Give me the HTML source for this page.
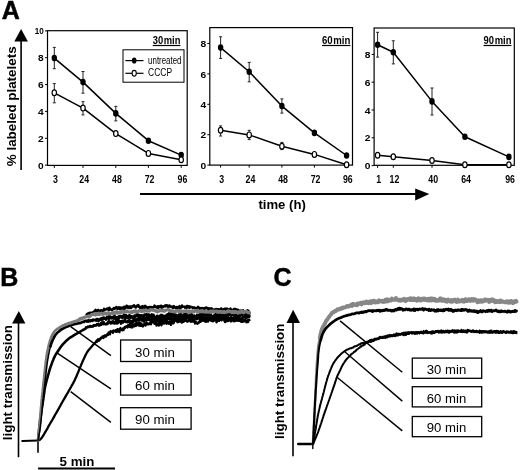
<!DOCTYPE html>
<html><head><meta charset="utf-8"><title>Figure</title>
<style>html,body{margin:0;padding:0;background:#fff;}svg{display:block;}</style></head>
<body>
<svg width="520" height="470" viewBox="0 0 520 470"><rect width="520" height="470" fill="#fff"/><text x="1.8" y="18.8" font-family="'Liberation Sans', sans-serif" font-weight="bold" font-size="25" stroke="#000" stroke-width="0.5">A</text>
<line x1="21.1" y1="40" x2="21.1" y2="170" stroke="#000" stroke-width="1.6"/>
<polygon points="21.1,28.9 14.3,41.4 27.9,41.4" fill="#000"/>
<text transform="translate(16.2,166.2) rotate(-90)" font-family="'Liberation Sans', sans-serif" font-weight="bold" font-size="13.6" textLength="119.8" lengthAdjust="spacingAndGlyphs">% labeled platelets</text>
<rect x="47.5" y="30.7" width="139.7" height="134.70000000000002" fill="none" stroke="#000" stroke-width="1.2"/>
<line x1="45.0" y1="165.1" x2="47.5" y2="165.1" stroke="#000" stroke-width="1"/>
<text x="43.8" y="168.7" font-family="'Liberation Sans', sans-serif" font-weight="bold" font-size="9.6" text-anchor="end" textLength="5.70" lengthAdjust="spacingAndGlyphs">0</text>
<line x1="45.0" y1="138.3" x2="47.5" y2="138.3" stroke="#000" stroke-width="1"/>
<text x="43.8" y="141.9" font-family="'Liberation Sans', sans-serif" font-weight="bold" font-size="9.6" text-anchor="end" textLength="5.70" lengthAdjust="spacingAndGlyphs">2</text>
<line x1="45.0" y1="111.4" x2="47.5" y2="111.4" stroke="#000" stroke-width="1"/>
<text x="43.8" y="115.0" font-family="'Liberation Sans', sans-serif" font-weight="bold" font-size="9.6" text-anchor="end" textLength="5.70" lengthAdjust="spacingAndGlyphs">4</text>
<line x1="45.0" y1="84.6" x2="47.5" y2="84.6" stroke="#000" stroke-width="1"/>
<text x="43.8" y="88.2" font-family="'Liberation Sans', sans-serif" font-weight="bold" font-size="9.6" text-anchor="end" textLength="5.70" lengthAdjust="spacingAndGlyphs">6</text>
<line x1="45.0" y1="57.7" x2="47.5" y2="57.7" stroke="#000" stroke-width="1"/>
<text x="43.8" y="61.3" font-family="'Liberation Sans', sans-serif" font-weight="bold" font-size="9.6" text-anchor="end" textLength="5.70" lengthAdjust="spacingAndGlyphs">8</text>
<line x1="45.0" y1="30.9" x2="47.5" y2="30.9" stroke="#000" stroke-width="1"/>
<text x="43.8" y="33.8" font-family="'Liberation Sans', sans-serif" font-weight="bold" font-size="9.6" text-anchor="end" textLength="9.00" lengthAdjust="spacingAndGlyphs">10</text>
<line x1="54.3" y1="165.4" x2="54.3" y2="167.9" stroke="#000" stroke-width="1"/>
<text x="55.5" y="183.1" font-family="'Liberation Sans', sans-serif" font-weight="bold" font-size="11" text-anchor="middle" textLength="4.89" lengthAdjust="spacingAndGlyphs">3</text>
<line x1="83" y1="165.4" x2="83" y2="167.9" stroke="#000" stroke-width="1"/>
<text x="84.2" y="183.1" font-family="'Liberation Sans', sans-serif" font-weight="bold" font-size="11" text-anchor="middle" textLength="9.79" lengthAdjust="spacingAndGlyphs">24</text>
<line x1="115.8" y1="165.4" x2="115.8" y2="167.9" stroke="#000" stroke-width="1"/>
<text x="117.0" y="183.1" font-family="'Liberation Sans', sans-serif" font-weight="bold" font-size="11" text-anchor="middle" textLength="9.79" lengthAdjust="spacingAndGlyphs">48</text>
<line x1="148.4" y1="165.4" x2="148.4" y2="167.9" stroke="#000" stroke-width="1"/>
<text x="149.6" y="183.1" font-family="'Liberation Sans', sans-serif" font-weight="bold" font-size="11" text-anchor="middle" textLength="9.79" lengthAdjust="spacingAndGlyphs">72</text>
<line x1="181.2" y1="165.4" x2="181.2" y2="167.9" stroke="#000" stroke-width="1"/>
<text x="182.39999999999998" y="183.1" font-family="'Liberation Sans', sans-serif" font-weight="bold" font-size="11" text-anchor="middle" textLength="9.79" lengthAdjust="spacingAndGlyphs">96</text>
<path d="M54.3,58.1 L83.0,82.1 L115.8,113.4 L148.4,140.7 L181.2,155.1" fill="none" stroke="#000" stroke-width="1.5" stroke-linejoin="round" stroke-linecap="round" />
<path d="M54.3,92.8 L83.0,108.1 L115.8,133.6 L148.4,153.4 L181.2,159.8" fill="none" stroke="#000" stroke-width="1.5" stroke-linejoin="round" stroke-linecap="round" />
<path d="M54.3,47.4 V68.7 M52.8,47.4 H55.8 M52.8,68.7 H55.8" stroke="#222" stroke-width="1" fill="none"/>
<path d="M83,71.5 V93.2 M81.5,71.5 H84.5 M81.5,93.2 H84.5" stroke="#222" stroke-width="1" fill="none"/>
<path d="M115.8,106.4 V120.9 M114.3,106.4 H117.3 M114.3,120.9 H117.3" stroke="#222" stroke-width="1" fill="none"/>
<path d="M54.3,83.6 V102.8 M52.8,83.6 H55.8 M52.8,102.8 H55.8" stroke="#222" stroke-width="1" fill="none"/>
<path d="M83,101.7 V114.9 M81.5,101.7 H84.5 M81.5,114.9 H84.5" stroke="#222" stroke-width="1" fill="none"/>
<ellipse cx="54.3" cy="58.1" rx="2.7" ry="3.3" fill="#000"/>
<ellipse cx="83" cy="82.1" rx="2.7" ry="3.3" fill="#000"/>
<ellipse cx="115.8" cy="113.4" rx="2.7" ry="3.3" fill="#000"/>
<ellipse cx="148.4" cy="140.7" rx="2.7" ry="3.3" fill="#000"/>
<ellipse cx="181.2" cy="155.1" rx="2.7" ry="3.3" fill="#000"/>
<ellipse cx="54.3" cy="92.8" rx="2.2" ry="2.9" fill="#fff" stroke="#000" stroke-width="1.2"/>
<ellipse cx="83" cy="108.1" rx="2.2" ry="2.9" fill="#fff" stroke="#000" stroke-width="1.2"/>
<ellipse cx="115.8" cy="133.6" rx="2.2" ry="2.9" fill="#fff" stroke="#000" stroke-width="1.2"/>
<ellipse cx="148.4" cy="153.4" rx="2.2" ry="2.9" fill="#fff" stroke="#000" stroke-width="1.2"/>
<ellipse cx="181.2" cy="159.8" rx="2.2" ry="2.9" fill="#fff" stroke="#000" stroke-width="1.2"/>
<text x="152.8" y="43.7" font-family="'Liberation Sans', sans-serif" font-weight="bold" font-size="10.2" word-spacing="-2.2" textLength="27.599999999999994" lengthAdjust="spacingAndGlyphs">30 min</text>
<line x1="152.8" y1="45.5" x2="180.4" y2="45.5" stroke="#000" stroke-width="1.2"/>
<rect x="209.8" y="27.6" width="142.7" height="137.5" fill="none" stroke="#000" stroke-width="1.2"/>
<line x1="207.3" y1="165.1" x2="209.8" y2="165.1" stroke="#000" stroke-width="1"/>
<text x="206.10000000000002" y="168.7" font-family="'Liberation Sans', sans-serif" font-weight="bold" font-size="9.6" text-anchor="end" textLength="5.70" lengthAdjust="spacingAndGlyphs">0</text>
<line x1="207.3" y1="134.7" x2="209.8" y2="134.7" stroke="#000" stroke-width="1"/>
<text x="206.10000000000002" y="138.3" font-family="'Liberation Sans', sans-serif" font-weight="bold" font-size="9.6" text-anchor="end" textLength="5.70" lengthAdjust="spacingAndGlyphs">2</text>
<line x1="207.3" y1="104.3" x2="209.8" y2="104.3" stroke="#000" stroke-width="1"/>
<text x="206.10000000000002" y="107.9" font-family="'Liberation Sans', sans-serif" font-weight="bold" font-size="9.6" text-anchor="end" textLength="5.70" lengthAdjust="spacingAndGlyphs">4</text>
<line x1="207.3" y1="73.9" x2="209.8" y2="73.9" stroke="#000" stroke-width="1"/>
<text x="206.10000000000002" y="77.5" font-family="'Liberation Sans', sans-serif" font-weight="bold" font-size="9.6" text-anchor="end" textLength="5.70" lengthAdjust="spacingAndGlyphs">6</text>
<line x1="207.3" y1="43.5" x2="209.8" y2="43.5" stroke="#000" stroke-width="1"/>
<text x="206.10000000000002" y="47.1" font-family="'Liberation Sans', sans-serif" font-weight="bold" font-size="9.6" text-anchor="end" textLength="5.70" lengthAdjust="spacingAndGlyphs">8</text>
<line x1="220.6" y1="165.1" x2="220.6" y2="167.6" stroke="#000" stroke-width="1"/>
<text x="221.79999999999998" y="182.8" font-family="'Liberation Sans', sans-serif" font-weight="bold" font-size="11" text-anchor="middle" textLength="4.89" lengthAdjust="spacingAndGlyphs">3</text>
<line x1="249.2" y1="165.1" x2="249.2" y2="167.6" stroke="#000" stroke-width="1"/>
<text x="250.39999999999998" y="182.8" font-family="'Liberation Sans', sans-serif" font-weight="bold" font-size="11" text-anchor="middle" textLength="9.79" lengthAdjust="spacingAndGlyphs">24</text>
<line x1="281.9" y1="165.1" x2="281.9" y2="167.6" stroke="#000" stroke-width="1"/>
<text x="283.09999999999997" y="182.8" font-family="'Liberation Sans', sans-serif" font-weight="bold" font-size="11" text-anchor="middle" textLength="9.79" lengthAdjust="spacingAndGlyphs">48</text>
<line x1="314.4" y1="165.1" x2="314.4" y2="167.6" stroke="#000" stroke-width="1"/>
<text x="315.59999999999997" y="182.8" font-family="'Liberation Sans', sans-serif" font-weight="bold" font-size="11" text-anchor="middle" textLength="9.79" lengthAdjust="spacingAndGlyphs">72</text>
<line x1="346.6" y1="165.1" x2="346.6" y2="167.6" stroke="#000" stroke-width="1"/>
<text x="347.8" y="182.8" font-family="'Liberation Sans', sans-serif" font-weight="bold" font-size="11" text-anchor="middle" textLength="9.79" lengthAdjust="spacingAndGlyphs">96</text>
<path d="M220.6,47.6 L249.2,71.8 L281.9,106.1 L314.4,132.9 L346.6,155.5" fill="none" stroke="#000" stroke-width="1.5" stroke-linejoin="round" stroke-linecap="round" />
<path d="M220.6,130.3 L249.2,134.9 L281.9,146.2 L314.4,154.4 L346.6,164.7" fill="none" stroke="#000" stroke-width="1.5" stroke-linejoin="round" stroke-linecap="round" />
<path d="M220.6,36.8 V58.4 M219.1,36.8 H222.1 M219.1,58.4 H222.1" stroke="#222" stroke-width="1" fill="none"/>
<path d="M249.2,62.4 V81.8 M247.7,62.4 H250.7 M247.7,81.8 H250.7" stroke="#222" stroke-width="1" fill="none"/>
<path d="M281.9,98.9 V113.1 M280.4,98.9 H283.4 M280.4,113.1 H283.4" stroke="#222" stroke-width="1" fill="none"/>
<path d="M220.6,125.9 V136 M219.1,125.9 H222.1 M219.1,136 H222.1" stroke="#222" stroke-width="1" fill="none"/>
<path d="M249.2,130.3 V139.6 M247.7,130.3 H250.7 M247.7,139.6 H250.7" stroke="#222" stroke-width="1" fill="none"/>
<path d="M281.9,142.4 V149.6 M280.4,142.4 H283.4 M280.4,149.6 H283.4" stroke="#222" stroke-width="1" fill="none"/>
<ellipse cx="220.6" cy="47.6" rx="2.7" ry="3.3" fill="#000"/>
<ellipse cx="249.2" cy="71.8" rx="2.7" ry="3.3" fill="#000"/>
<ellipse cx="281.9" cy="106.1" rx="2.7" ry="3.3" fill="#000"/>
<ellipse cx="314.4" cy="132.9" rx="2.7" ry="3.3" fill="#000"/>
<ellipse cx="346.6" cy="155.5" rx="2.7" ry="3.3" fill="#000"/>
<ellipse cx="220.6" cy="130.3" rx="2.2" ry="2.9" fill="#fff" stroke="#000" stroke-width="1.2"/>
<ellipse cx="249.2" cy="134.9" rx="2.2" ry="2.9" fill="#fff" stroke="#000" stroke-width="1.2"/>
<ellipse cx="281.9" cy="146.2" rx="2.2" ry="2.9" fill="#fff" stroke="#000" stroke-width="1.2"/>
<ellipse cx="314.4" cy="154.4" rx="2.2" ry="2.9" fill="#fff" stroke="#000" stroke-width="1.2"/>
<ellipse cx="346.6" cy="164.7" rx="2.2" ry="2.9" fill="#fff" stroke="#000" stroke-width="1.2"/>
<text x="322" y="43.7" font-family="'Liberation Sans', sans-serif" font-weight="bold" font-size="10.2" word-spacing="-2.2" textLength="28.399999999999977" lengthAdjust="spacingAndGlyphs">60 min</text>
<line x1="322" y1="45.5" x2="350.4" y2="45.5" stroke="#000" stroke-width="1.2"/>
<rect x="374.1" y="28" width="140.19999999999993" height="137.3" fill="none" stroke="#000" stroke-width="1.2"/>
<line x1="371.6" y1="165.6" x2="374.1" y2="165.6" stroke="#000" stroke-width="1"/>
<text x="370.40000000000003" y="169.2" font-family="'Liberation Sans', sans-serif" font-weight="bold" font-size="9.6" text-anchor="end" textLength="5.70" lengthAdjust="spacingAndGlyphs">0</text>
<line x1="371.6" y1="137.8" x2="374.1" y2="137.8" stroke="#000" stroke-width="1"/>
<text x="370.40000000000003" y="141.4" font-family="'Liberation Sans', sans-serif" font-weight="bold" font-size="9.6" text-anchor="end" textLength="5.70" lengthAdjust="spacingAndGlyphs">2</text>
<line x1="371.6" y1="110.0" x2="374.1" y2="110.0" stroke="#000" stroke-width="1"/>
<text x="370.40000000000003" y="113.6" font-family="'Liberation Sans', sans-serif" font-weight="bold" font-size="9.6" text-anchor="end" textLength="5.70" lengthAdjust="spacingAndGlyphs">4</text>
<line x1="371.6" y1="82.2" x2="374.1" y2="82.2" stroke="#000" stroke-width="1"/>
<text x="370.40000000000003" y="85.8" font-family="'Liberation Sans', sans-serif" font-weight="bold" font-size="9.6" text-anchor="end" textLength="5.70" lengthAdjust="spacingAndGlyphs">6</text>
<line x1="371.6" y1="54.4" x2="374.1" y2="54.4" stroke="#000" stroke-width="1"/>
<text x="370.40000000000003" y="58.0" font-family="'Liberation Sans', sans-serif" font-weight="bold" font-size="9.6" text-anchor="end" textLength="5.70" lengthAdjust="spacingAndGlyphs">8</text>
<line x1="377.6" y1="165.3" x2="377.6" y2="167.8" stroke="#000" stroke-width="1"/>
<text x="378.8" y="183.0" font-family="'Liberation Sans', sans-serif" font-weight="bold" font-size="11" text-anchor="middle" textLength="4.89" lengthAdjust="spacingAndGlyphs">1</text>
<line x1="393.3" y1="165.3" x2="393.3" y2="167.8" stroke="#000" stroke-width="1"/>
<text x="394.5" y="183.0" font-family="'Liberation Sans', sans-serif" font-weight="bold" font-size="11" text-anchor="middle" textLength="9.79" lengthAdjust="spacingAndGlyphs">12</text>
<line x1="432" y1="165.3" x2="432" y2="167.8" stroke="#000" stroke-width="1"/>
<text x="433.2" y="183.0" font-family="'Liberation Sans', sans-serif" font-weight="bold" font-size="11" text-anchor="middle" textLength="9.79" lengthAdjust="spacingAndGlyphs">40</text>
<line x1="464.9" y1="165.3" x2="464.9" y2="167.8" stroke="#000" stroke-width="1"/>
<text x="466.09999999999997" y="183.0" font-family="'Liberation Sans', sans-serif" font-weight="bold" font-size="11" text-anchor="middle" textLength="9.79" lengthAdjust="spacingAndGlyphs">64</text>
<line x1="508.9" y1="165.3" x2="508.9" y2="167.8" stroke="#000" stroke-width="1"/>
<text x="510.09999999999997" y="183.0" font-family="'Liberation Sans', sans-serif" font-weight="bold" font-size="11" text-anchor="middle" textLength="9.79" lengthAdjust="spacingAndGlyphs">96</text>
<path d="M377.6,44.7 L393.3,52.3 L432.0,101.4 L464.9,136.8 L508.9,156.9" fill="none" stroke="#000" stroke-width="1.5" stroke-linejoin="round" stroke-linecap="round" />
<path d="M377.6,155.2 L393.3,156.7 L432.0,160.5 L464.9,164.7 L508.9,164.7" fill="none" stroke="#000" stroke-width="1.5" stroke-linejoin="round" stroke-linecap="round" />
<path d="M377.6,32.3 V57.1 M376.1,32.3 H379.1 M376.1,57.1 H379.1" stroke="#222" stroke-width="1" fill="none"/>
<path d="M393.3,40.8 V63.9 M391.8,40.8 H394.8 M391.8,63.9 H394.8" stroke="#222" stroke-width="1" fill="none"/>
<path d="M432,88 V115 M430.5,88 H433.5 M430.5,115 H433.5" stroke="#222" stroke-width="1" fill="none"/>
<ellipse cx="377.6" cy="44.7" rx="2.7" ry="3.3" fill="#000"/>
<ellipse cx="393.3" cy="52.3" rx="2.7" ry="3.3" fill="#000"/>
<ellipse cx="432" cy="101.4" rx="2.7" ry="3.3" fill="#000"/>
<ellipse cx="464.9" cy="136.8" rx="2.7" ry="3.3" fill="#000"/>
<ellipse cx="508.9" cy="156.9" rx="2.7" ry="3.3" fill="#000"/>
<ellipse cx="377.6" cy="155.2" rx="2.2" ry="2.9" fill="#fff" stroke="#000" stroke-width="1.2"/>
<ellipse cx="393.3" cy="156.7" rx="2.2" ry="2.9" fill="#fff" stroke="#000" stroke-width="1.2"/>
<ellipse cx="432" cy="160.5" rx="2.2" ry="2.9" fill="#fff" stroke="#000" stroke-width="1.2"/>
<ellipse cx="464.9" cy="164.7" rx="2.2" ry="2.9" fill="#fff" stroke="#000" stroke-width="1.2"/>
<ellipse cx="508.9" cy="164.7" rx="2.2" ry="2.9" fill="#fff" stroke="#000" stroke-width="1.2"/>
<text x="483.6" y="43.7" font-family="'Liberation Sans', sans-serif" font-weight="bold" font-size="10.2" word-spacing="-2.2" textLength="27.799999999999955" lengthAdjust="spacingAndGlyphs">90 min</text>
<line x1="483.6" y1="45.5" x2="511.4" y2="45.5" stroke="#000" stroke-width="1.2"/>
<rect x="123" y="49.8" width="61" height="32.4" fill="#fff" stroke="#000" stroke-width="1"/>
<line x1="125.4" y1="60.6" x2="143.5" y2="60.6" stroke="#000" stroke-width="1.2"/>
<ellipse cx="134.2" cy="60.5" rx="2.3" ry="3.1" fill="#000"/>
<line x1="125.4" y1="73.3" x2="143.5" y2="73.3" stroke="#000" stroke-width="1.2"/>
<ellipse cx="134.2" cy="73.3" rx="2.1" ry="2.9" fill="#fff" stroke="#000" stroke-width="1.1"/>
<text x="148.1" y="63.6" font-family="'Liberation Sans', sans-serif" font-size="10" textLength="33.4" lengthAdjust="spacingAndGlyphs">untreated</text>
<text x="148.1" y="76.4" font-family="'Liberation Sans', sans-serif" font-size="10" textLength="24" lengthAdjust="spacingAndGlyphs">CCCP</text>
<line x1="140" y1="194" x2="416" y2="194" stroke="#000" stroke-width="2"/>
<polygon points="415.2,188.4 429.3,194 415.2,200.6" fill="#000"/>
<text x="258.4" y="208.5" font-family="'Liberation Sans', sans-serif" font-weight="bold" font-size="13" textLength="47.4" lengthAdjust="spacingAndGlyphs">time (h)</text>
<text x="0.2" y="286" font-family="'Liberation Sans', sans-serif" font-weight="bold" font-size="25" stroke="#000" stroke-width="0.5">B</text>
<line x1="18.5" y1="322" x2="18.5" y2="457.2" stroke="#000" stroke-width="1.6"/>
<polygon points="18.8,310.9 12.1,323.6 25.4,323.6" fill="#000"/>
<text transform="translate(12.4,440.2) rotate(-90)" font-family="'Liberation Sans', sans-serif" font-weight="bold" font-size="13.2" textLength="115" lengthAdjust="spacingAndGlyphs">light transmission</text>
<path d="M22.3,440.9 L38.0,440.5" fill="none" stroke="#000" stroke-width="2" stroke-linejoin="round" stroke-linecap="round" />
<path d="M38.0,436.0 L38.0,452.3" fill="none" stroke="#000" stroke-width="1.6" stroke-linejoin="round" stroke-linecap="round" />
<path d="M38.0,440.5 L38.2,440.4 L38.4,440.4 L38.5,440.3 L38.7,440.3 L38.9,440.2 L39.1,440.1 L39.3,440.1 L39.4,440.0 L39.6,439.9 L39.8,439.8 L40.0,439.7 L40.2,439.5 L40.4,439.3 L40.6,439.1 L40.8,438.9 L41.0,438.7 L41.2,438.5 L41.4,438.2 L41.7,437.9 L41.9,437.6 L42.5,436.7 L43.2,435.6 L44.0,434.3 L44.8,432.9 L45.7,431.4 L46.6,429.8 L47.5,428.3 L48.3,426.7 L49.2,425.2 L50.0,423.8 L50.7,422.5 L51.4,421.3 L52.2,420.1 L52.9,418.9 L53.6,417.6 L54.3,416.4 L54.9,415.2 L55.6,414.0 L56.3,412.8 L57.0,411.6 L57.7,410.4 L58.3,409.3 L59.0,408.1 L59.6,406.9 L60.3,405.8 L60.9,404.6 L61.5,403.5 L62.2,402.3 L62.8,401.2 L63.5,400.0 L64.2,398.8 L64.9,397.6 L65.6,396.4 L66.3,395.2 L67.0,394.0 L67.7,392.8 L68.4,391.6 L69.0,390.4 L69.7,389.3 L70.3,388.2 L70.8,387.3 L71.3,386.5 L71.7,385.7 L72.2,384.9 L72.6,384.1 L73.1,383.4 L73.5,382.6 L73.9,381.7 L74.4,380.9 L74.8,380.0 L75.3,378.8 L75.9,377.6 L76.4,376.4 L77.0,375.1 L77.5,373.7 L78.1,372.4 L78.6,371.1 L79.1,369.8 L79.6,368.6 L80.1,367.4 L80.5,366.5 L80.9,365.6 L81.2,364.7 L81.6,363.8 L82.0,363.0 L82.3,362.2 L82.7,361.3 L83.0,360.5 L83.4,359.7 L83.8,358.9 L84.2,358.1 L84.5,357.3 L84.9,356.6 L85.3,355.8 L85.6,355.0 L86.0,354.3 L86.4,353.5 L86.8,352.8 L87.2,352.1 L87.6,351.5 L88.0,351.0 L88.3,350.5 L88.7,350.0 L89.1,349.6 L89.4,349.1 L89.8,348.7 L90.2,348.3 L90.6,347.8 L90.9,347.4 L91.3,347.0 L91.6,346.6 L91.9,346.3 L92.2,345.9 L92.5,345.5 L92.8,345.2 L93.1,344.8 L93.5,344.5 L93.8,344.1 L94.1,343.8 L94.5,343.4 L95.0,342.9 L95.5,342.5 L96.0,342.0 L96.0,341.5 L96.5,340.8 L97.0,341.8 L97.5,340.1 L98.0,339.3 L98.5,339.6 L99.0,340.8 L99.5,338.9 L100.0,339.6 L100.5,339.2 L101.0,337.6 L101.5,337.9 L102.0,337.7 L102.5,336.4 L103.0,336.8 L103.5,338.0 L104.0,335.8 L104.5,336.0 L105.0,335.3 L105.5,336.6 L106.0,336.7 L106.5,335.2 L107.0,334.7 L107.5,333.9 L108.0,335.0 L108.5,332.5 L109.0,333.1 L109.5,333.9 L110.0,334.3 L110.5,331.2 L111.0,331.7 L111.5,331.7 L112.0,331.2 L112.5,332.0 L113.0,332.8 L113.5,330.5 L114.0,331.3 L114.5,331.4 L115.0,330.9 L115.5,330.4 L116.0,331.8 L116.5,329.9 L117.0,331.9 L117.5,329.2 L118.0,330.9 L118.5,329.5 L119.0,331.6 L119.5,332.1 L120.0,329.1 L120.5,328.0 L121.0,329.9 L121.5,329.5 L122.0,330.0 L122.5,330.4 L123.0,328.5 L123.5,330.1 L124.0,328.5 L124.5,327.2 L125.0,328.1 L125.5,326.8 L126.0,326.5 L126.5,326.2 L127.0,325.9 L127.5,327.5 L128.0,325.2 L128.5,326.6 L129.0,325.2 L129.5,326.7 L130.0,325.2 L130.5,327.2 L131.0,325.7 L131.5,325.0 L132.0,327.5 L132.5,324.6 L133.0,324.9 L133.5,326.5 L134.0,326.2 L134.5,326.3 L135.0,323.8 L135.5,324.4 L136.0,325.9 L136.5,324.5 L137.0,324.0 L137.5,322.9 L138.0,325.2 L138.5,323.3 L139.0,325.5 L139.5,322.3 L140.0,325.9 L140.5,322.8 L141.0,324.5 L141.5,325.7 L142.0,324.4 L142.5,324.8 L143.0,326.5 L143.5,324.5 L144.0,324.5 L144.5,324.3 L145.0,323.2 L145.5,325.6 L146.0,323.7 L146.5,322.3 L147.0,323.0 L147.5,324.4 L148.0,323.6 L148.5,324.3 L149.0,324.3 L149.5,323.4 L150.0,323.3 L150.5,322.0 L151.0,324.3 L151.5,322.2 L152.0,321.9 L152.5,322.4 L153.0,321.9 L153.5,320.7 L154.0,321.2 L154.5,323.9 L155.0,321.5 L155.5,322.6 L156.0,322.4 L156.5,325.6 L157.0,325.2 L157.5,325.1 L158.0,324.9 L158.5,322.7 L159.0,325.5 L159.5,322.8 L160.0,322.4 L160.5,323.2 L161.0,323.0 L161.5,325.3 L162.0,322.5 L162.5,322.6 L163.0,321.4 L163.5,323.4 L164.0,323.6 L164.5,322.8 L165.0,321.5 L165.5,321.2 L166.0,322.5 L166.5,323.7 L167.0,323.5 L167.5,321.7 L168.0,321.7 L168.5,323.4 L169.0,323.7 L169.5,321.5 L170.0,321.4 L170.5,322.4 L171.0,324.9 L171.5,323.7 L172.0,321.1 L172.5,320.8 L173.0,321.9 L173.5,323.4 L174.0,320.6 L174.5,320.2 L175.0,320.6 L175.5,320.2 L176.0,320.7 L176.5,319.8 L177.0,321.0 L177.5,322.2 L178.0,319.3 L178.5,320.6 L179.0,321.8 L179.5,320.0 L180.0,320.8 L180.5,320.1 L181.0,320.7 L181.5,322.4 L182.0,322.6 L182.5,320.8 L183.0,319.8 L183.5,321.1 L184.0,319.9 L184.5,319.4 L185.0,320.6 L185.5,320.9 L186.0,319.9 L186.5,320.1 L187.0,321.6 L187.5,321.5 L188.0,321.4 L188.5,320.6 L189.0,321.0 L189.5,319.4 L190.0,318.9 L190.5,321.2 L191.0,321.9 L191.5,320.3 L192.0,321.0 L192.5,321.7 L193.0,321.7 L193.5,320.9 L194.0,320.6 L194.5,320.9 L195.0,323.5 L195.5,321.6 L196.0,322.0 L196.5,323.3 L197.0,322.6 L197.5,323.7 L198.0,323.0 L198.5,323.2 L199.0,322.5 L199.5,321.1 L200.0,321.6 L200.5,321.9 L201.0,318.5 L201.5,321.1 L202.0,318.4 L202.5,317.6 L203.0,320.1 L203.5,320.9 L204.0,319.9 L204.5,320.7 L205.0,321.5 L205.5,320.9 L206.0,321.9 L206.5,319.0 L207.0,318.0 L207.5,321.2 L208.0,321.6 L208.5,320.0 L209.0,318.8 L209.5,319.6 L210.0,320.1 L210.5,318.9 L211.0,320.3 L211.5,318.9 L212.0,320.4 L212.5,321.3 L213.0,319.9 L213.5,321.1 L214.0,320.7 L214.5,319.2 L215.0,319.4 L215.5,320.1 L216.0,319.4 L216.5,322.4 L217.0,320.0 L217.5,321.1 L218.0,319.7 L218.5,320.8 L219.0,320.9 L219.5,318.4 L220.0,319.8 L220.5,319.8 L221.0,319.9 L221.5,320.4 L222.0,319.3 L222.5,319.4 L223.0,319.0 L223.5,319.4 L224.0,319.7 L224.5,321.1 L225.0,322.1 L225.5,320.2 L226.0,321.3 L226.5,321.3 L227.0,319.9 L227.5,321.2 L228.0,321.1 L228.5,319.7 L229.0,320.6 L229.5,319.7 L230.0,319.6 L230.5,319.4 L231.0,321.5 L231.5,318.7 L232.0,319.0 L232.5,318.6 L233.0,318.6 L233.5,321.2 L234.0,321.4 L234.5,319.0 L235.0,321.2 L235.5,320.3 L236.0,320.5 L236.5,318.6 L237.0,318.0 L237.5,320.5 L238.0,319.9 L238.5,320.0 L239.0,320.0 L239.5,320.4 L240.0,320.1 L240.5,321.2 L241.0,319.4 L241.5,321.9 L242.0,321.6 L242.5,321.9 L243.0,321.2 L243.5,321.4 L244.0,320.0 L244.5,321.4 L245.0,319.9 L245.5,320.4 L246.0,320.4 L246.5,322.3 L247.0,320.8 L247.5,320.3 L248.0,322.2 L248.5,320.0 L249.0,320.4 L249.5,320.2" fill="none" stroke="#000" stroke-width="2.3" stroke-linejoin="round" stroke-linecap="round" />
<path d="M38.0,440.5 L38.2,438.9 L38.3,437.4 L38.5,435.8 L38.6,434.2 L38.8,432.6 L39.0,431.0 L39.1,429.5 L39.3,427.9 L39.4,426.4 L39.6,425.0 L39.7,423.8 L39.9,422.7 L40.0,421.5 L40.1,420.4 L40.3,419.3 L40.4,418.2 L40.6,417.2 L40.7,416.1 L40.9,415.0 L41.0,414.0 L41.1,413.1 L41.3,412.1 L41.4,411.2 L41.6,410.3 L41.7,409.4 L41.8,408.5 L42.0,407.6 L42.1,406.7 L42.3,405.9 L42.4,405.0 L42.5,404.2 L42.6,403.5 L42.7,402.8 L42.8,402.1 L42.9,401.3 L43.1,400.6 L43.2,399.9 L43.3,399.2 L43.4,398.4 L43.5,397.6 L43.6,396.6 L43.8,395.6 L43.9,394.5 L44.1,393.5 L44.2,392.4 L44.4,391.3 L44.5,390.2 L44.7,389.1 L44.9,388.0 L45.1,386.9 L45.3,385.8 L45.6,384.8 L45.8,383.7 L46.1,382.6 L46.4,381.6 L46.6,380.5 L46.9,379.5 L47.2,378.4 L47.5,377.4 L47.8,376.3 L48.1,375.2 L48.4,374.2 L48.7,373.1 L49.0,372.0 L49.3,370.9 L49.6,369.8 L49.9,368.8 L50.3,367.7 L50.6,366.7 L51.0,365.6 L51.4,364.5 L51.8,363.5 L52.2,362.4 L52.6,361.3 L53.1,360.2 L53.5,359.1 L53.9,358.1 L54.4,357.1 L54.8,356.2 L55.2,355.4 L55.5,354.9 L55.7,354.5 L56.0,354.1 L56.2,353.7 L56.5,353.3 L56.7,352.9 L57.0,352.6 L57.2,352.2 L57.5,351.8 L57.8,351.4 L58.2,350.9 L58.5,350.3 L58.9,349.7 L59.3,349.2 L59.6,348.6 L60.0,348.0 L60.4,347.4 L60.9,346.8 L61.3,346.2 L61.8,345.6 L62.4,344.9 L63.0,344.2 L63.6,343.5 L64.3,342.8 L65.0,342.1 L65.7,341.4 L66.4,340.7 L67.1,340.1 L67.9,339.4 L68.6,338.8 L69.3,338.2 L70.1,337.7 L70.9,337.1 L71.8,336.6 L72.6,336.1 L73.4,335.6 L74.2,335.1 L75.0,334.6 L75.7,334.2 L76.4,333.8 L76.9,333.5 L77.3,333.3 L77.7,333.0 L78.1,332.8 L78.6,332.6 L78.9,332.3 L79.3,332.1 L79.8,331.9 L80.2,331.6 L80.6,331.4 L81.1,331.1 L81.6,330.8 L82.0,330.4 L82.5,330.3 L83.0,329.9 L83.5,329.6 L84.0,329.7 L84.5,329.1 L85.0,328.9 L85.5,328.7 L86.0,327.4 L86.5,327.5 L87.0,327.2 L87.5,327.4 L88.0,326.6 L88.5,327.0 L89.0,326.9 L89.5,327.0 L90.0,326.0 L90.5,326.6 L91.0,326.5 L91.5,326.3 L92.0,326.6 L92.5,326.0 L93.0,326.4 L93.5,325.4 L94.0,325.1 L94.5,325.6 L95.0,325.6 L95.5,325.3 L96.0,324.9 L96.5,325.4 L97.0,324.2 L97.5,324.5 L98.0,324.7 L98.5,324.2 L99.0,325.5 L99.5,325.0 L100.0,325.2 L100.5,324.9 L101.0,323.1 L101.5,324.7 L102.0,323.2 L102.5,322.5 L103.0,323.7 L103.5,322.1 L104.0,324.1 L104.5,323.9 L105.0,323.8 L105.5,324.2 L106.0,324.4 L106.5,323.6 L107.0,323.7 L107.5,323.9 L108.0,322.3 L108.5,321.5 L109.0,321.3 L109.5,321.4 L110.0,322.4 L110.5,323.5 L111.0,322.8 L111.5,322.0 L112.0,323.1 L112.5,321.6 L113.0,321.2 L113.5,323.0 L114.0,322.2 L114.5,323.5 L115.0,323.4 L115.5,321.8 L116.0,320.8 L116.5,323.0 L117.0,323.4 L117.5,321.8 L118.0,322.8 L118.5,321.2 L119.0,321.5 L119.5,321.1 L120.0,321.9 L120.5,321.3 L121.0,323.6 L121.5,323.1 L122.0,321.1 L122.5,321.7 L123.0,322.5 L123.5,321.6 L124.0,321.6 L124.5,320.1 L125.0,319.1 L125.5,321.2 L126.0,322.0 L126.5,322.0 L127.0,322.1 L127.5,322.2 L128.0,321.0 L128.5,321.9 L129.0,320.8 L129.5,320.0 L130.0,323.2 L130.5,321.4 L131.0,323.1 L131.5,321.1 L132.0,321.2 L132.5,320.8 L133.0,322.6 L133.5,320.7 L134.0,318.5 L134.5,320.6 L135.0,320.7 L135.5,319.8 L136.0,321.8 L136.5,320.9 L137.0,319.4 L137.5,319.9 L138.0,318.6 L138.5,320.2 L139.0,320.7 L139.5,319.9 L140.0,316.8 L140.5,318.1 L141.0,318.4 L141.5,319.8 L142.0,320.5 L142.5,318.4 L143.0,320.7 L143.5,321.4 L144.0,321.1 L144.5,318.3 L145.0,319.7 L145.5,318.4 L146.0,320.3 L146.5,320.3 L147.0,317.7 L147.5,319.3 L148.0,319.7 L148.5,319.7 L149.0,319.2 L149.5,318.7 L150.0,319.9 L150.5,320.6 L151.0,319.1 L151.5,320.7 L152.0,320.6 L152.5,319.7 L153.0,321.1 L153.5,319.4 L154.0,321.2 L154.5,320.3 L155.0,321.1 L155.5,319.5 L156.0,318.6 L156.5,319.6 L157.0,321.1 L157.5,320.2 L158.0,320.8 L158.5,318.9 L159.0,321.2 L159.5,321.7 L160.0,318.6 L160.5,320.9 L161.0,320.3 L161.5,319.1 L162.0,320.7 L162.5,318.9 L163.0,320.3 L163.5,319.7 L164.0,320.3 L164.5,318.7 L165.0,321.0 L165.5,320.2 L166.0,320.3 L166.5,318.4 L167.0,319.7 L167.5,319.0 L168.0,318.8 L168.5,316.8 L169.0,318.7 L169.5,319.1 L170.0,317.9 L170.5,318.7 L171.0,317.6 L171.5,320.2 L172.0,319.1 L172.5,318.5 L173.0,319.4 L173.5,321.1 L174.0,322.0 L174.5,318.4 L175.0,318.3 L175.5,317.2 L176.0,320.1 L176.5,320.3 L177.0,318.0 L177.5,319.2 L178.0,320.4 L178.5,318.8 L179.0,320.4 L179.5,318.7 L180.0,317.9 L180.5,321.3 L181.0,317.6 L181.5,318.3 L182.0,320.7 L182.5,318.2 L183.0,320.7 L183.5,321.7 L184.0,318.1 L184.5,321.0 L185.0,319.0 L185.5,320.6 L186.0,318.4 L186.5,317.4 L187.0,317.5 L187.5,317.1 L188.0,317.0 L188.5,317.9 L189.0,319.7 L189.5,319.4 L190.0,319.9 L190.5,317.9 L191.0,319.1 L191.5,318.7 L192.0,317.7 L192.5,318.7 L193.0,317.8 L193.5,317.0 L194.0,319.0 L194.5,319.6 L195.0,317.7 L195.5,316.9 L196.0,317.7 L196.5,317.8 L197.0,319.1 L197.5,318.9 L198.0,318.2 L198.5,316.4 L199.0,316.8 L199.5,316.3 L200.0,319.0 L200.5,319.6 L201.0,317.0 L201.5,316.9 L202.0,318.0 L202.5,317.7 L203.0,319.1 L203.5,317.3 L204.0,319.4 L204.5,318.6 L205.0,318.4 L205.5,318.1 L206.0,319.6 L206.5,317.9 L207.0,316.9 L207.5,318.4 L208.0,317.1 L208.5,319.0 L209.0,319.0 L209.5,316.8 L210.0,318.3 L210.5,317.4 L211.0,318.7 L211.5,320.8 L212.0,317.8 L212.5,319.7 L213.0,319.3 L213.5,320.5 L214.0,317.9 L214.5,319.1 L215.0,318.0 L215.5,318.0 L216.0,318.2 L216.5,319.3 L217.0,318.5 L217.5,318.6 L218.0,318.4 L218.5,317.9 L219.0,318.1 L219.5,316.5 L220.0,317.8 L220.5,316.9 L221.0,318.9 L221.5,315.9 L222.0,316.7 L222.5,317.4 L223.0,317.4 L223.5,316.4 L224.0,319.1 L224.5,316.4 L225.0,317.7 L225.5,316.2 L226.0,316.2 L226.5,318.9 L227.0,317.5 L227.5,316.6 L228.0,319.7 L228.5,317.8 L229.0,318.6 L229.5,319.8 L230.0,318.1 L230.5,317.6 L231.0,319.7 L231.5,319.9 L232.0,320.0 L232.5,318.2 L233.0,320.2 L233.5,318.0 L234.0,318.0 L234.5,317.0 L235.0,318.3 L235.5,316.3 L236.0,319.2 L236.5,319.3 L237.0,320.4 L237.5,317.9 L238.0,318.7 L238.5,318.7 L239.0,320.7 L239.5,318.4 L240.0,318.9 L240.5,318.8 L241.0,319.5 L241.5,318.6 L242.0,318.9 L242.5,318.3 L243.0,317.2 L243.5,316.5 L244.0,317.2 L244.5,316.4 L245.0,316.9 L245.5,317.8 L246.0,318.1 L246.5,317.9 L247.0,317.4 L247.5,317.4 L248.0,316.4 L248.5,317.0 L249.0,317.2 L249.5,315.8" fill="none" stroke="#000" stroke-width="2.6" stroke-linejoin="round" stroke-linecap="round" />
<path d="M38.0,440.5 L38.1,439.3 L38.2,438.0 L38.4,436.8 L38.5,435.5 L38.6,434.3 L38.7,433.0 L38.8,431.8 L39.0,430.5 L39.1,429.3 L39.2,428.0 L39.3,426.7 L39.4,425.4 L39.6,424.1 L39.7,422.8 L39.8,421.5 L39.9,420.2 L40.0,418.9 L40.2,417.6 L40.3,416.3 L40.4,415.0 L40.5,413.7 L40.6,412.4 L40.7,411.1 L40.8,409.8 L40.9,408.5 L41.0,407.2 L41.2,405.9 L41.3,404.6 L41.4,403.3 L41.5,402.0 L41.6,400.8 L41.7,399.6 L41.9,398.4 L42.0,397.2 L42.1,396.0 L42.3,394.8 L42.4,393.7 L42.5,392.5 L42.7,391.2 L42.8,390.0 L42.9,388.6 L43.1,387.3 L43.2,385.9 L43.4,384.5 L43.5,383.1 L43.6,381.7 L43.8,380.2 L43.9,378.8 L44.1,377.4 L44.2,376.0 L44.4,374.6 L44.5,373.2 L44.7,371.7 L44.8,370.3 L45.0,368.9 L45.1,367.5 L45.3,366.1 L45.5,364.7 L45.6,363.3 L45.8,362.0 L46.0,360.8 L46.1,359.7 L46.3,358.6 L46.4,357.4 L46.6,356.3 L46.8,355.3 L46.9,354.2 L47.1,353.1 L47.3,352.0 L47.5,351.0 L47.7,350.1 L47.9,349.1 L48.1,348.2 L48.3,347.3 L48.5,346.3 L48.7,345.4 L48.9,344.6 L49.1,343.7 L49.4,342.8 L49.6,342.0 L49.8,341.3 L50.0,340.6 L50.2,339.9 L50.5,339.2 L50.7,338.6 L50.9,337.9 L51.2,337.3 L51.4,336.7 L51.7,336.1 L52.0,335.5 L52.3,335.0 L52.5,334.5 L52.8,334.0 L53.1,333.5 L53.4,333.0 L53.7,332.5 L54.0,332.1 L54.3,331.6 L54.6,331.2 L55.0,330.8 L55.4,330.4 L55.7,330.1 L56.1,329.8 L56.5,329.5 L56.9,329.2 L57.3,328.9 L57.7,328.6 L58.2,328.3 L58.6,328.1 L59.0,327.8 L59.4,327.5 L59.8,327.3 L60.0,327.1 L60.5,326.8 L61.0,326.7 L61.5,326.4 L62.0,326.1 L62.5,325.6 L63.0,325.8 L63.5,325.2 L64.0,325.4 L64.5,325.0 L65.0,324.7 L65.5,324.7 L66.0,324.3" fill="none" stroke="#7a7a7a" stroke-width="2.6" stroke-linejoin="round" stroke-linecap="round" />
<path d="M38.0,440.5 L38.2,439.3 L38.5,438.0 L38.7,436.8 L38.9,435.5 L39.2,434.3 L39.4,433.0 L39.6,431.8 L39.8,430.5 L40.0,429.3 L40.2,428.0 L40.4,426.7 L40.5,425.4 L40.7,424.1 L40.8,422.8 L41.0,421.5 L41.1,420.2 L41.2,418.9 L41.3,417.6 L41.5,416.3 L41.6,415.0 L41.7,413.7 L41.9,412.4 L42.0,411.1 L42.1,409.8 L42.2,408.5 L42.3,407.2 L42.4,405.9 L42.6,404.6 L42.7,403.3 L42.8,402.0 L42.9,400.8 L43.0,399.6 L43.2,398.4 L43.3,397.2 L43.4,396.0 L43.6,394.8 L43.7,393.7 L43.8,392.5 L44.0,391.2 L44.1,390.0 L44.3,388.6 L44.4,387.3 L44.6,385.9 L44.7,384.5 L44.9,383.1 L45.0,381.7 L45.2,380.2 L45.4,378.8 L45.5,377.4 L45.7,376.0 L45.9,374.6 L46.0,373.2 L46.2,371.7 L46.4,370.3 L46.5,368.8 L46.7,367.4 L46.9,366.0 L47.0,364.6 L47.2,363.3 L47.4,362.0 L47.6,360.9 L47.7,359.9 L47.9,358.8 L48.1,357.8 L48.3,356.8 L48.4,355.8 L48.6,354.8 L48.8,353.9 L49.0,352.9 L49.2,352.0 L49.4,351.2 L49.5,350.4 L49.7,349.6 L49.9,348.9 L50.0,348.1 L50.2,347.4 L50.4,346.6 L50.6,345.9 L50.8,345.2" fill="none" stroke="#000" stroke-width="1.5" stroke-linejoin="round" stroke-linecap="round" />
<path d="M50.4,346.6 L50.6,345.9 L50.8,345.2 L51.0,344.5 L51.2,343.9 L51.4,343.2 L51.7,342.6 L51.9,342.0 L52.2,341.4 L52.4,340.8 L52.7,340.2 L52.9,339.6 L53.2,339.1 L53.5,338.5 L53.8,338.0 L54.0,337.5 L54.3,337.0 L54.5,336.5 L54.8,336.0 L55.1,335.5 L55.4,335.0 L55.7,334.5 L56.1,334.1 L56.5,333.6 L57.0,333.1 L57.6,332.5 L58.2,332.0 L58.9,331.4 L59.5,330.9 L60.2,330.4 L60.9,329.9 L61.6,329.4 L62.3,329.0 L63.0,328.6 L63.6,328.3 L64.1,328.0 L64.7,327.7 L65.2,327.4 L65.8,327.2 L66.4,326.9 L66.9,326.7 L67.5,326.5 L68.2,326.2 L68.8,326.0 L69.6,325.7 L70.0,325.5 L70.5,325.5 L71.0,325.4 L71.5,325.2 L72.0,324.7 L72.5,324.8 L73.0,324.5 L73.5,324.5 L74.0,324.1 L74.5,324.3 L75.0,323.9 L75.5,323.9 L76.0,323.9 L76.5,323.6 L77.0,323.7 L77.5,323.4 L78.0,323.5 L78.5,323.1 L79.0,322.9 L79.5,323.2 L80.0,323.2 L80.5,322.7 L81.0,322.9 L81.5,322.4 L82.0,322.2 L82.5,322.0 L83.0,322.0 L83.5,321.6 L84.0,322.1 L84.5,321.5 L85.0,321.1 L85.5,321.1 L86.0,320.5 L86.5,320.9 L87.0,321.5 L87.5,320.9 L88.0,321.6 L88.5,320.0 L89.0,320.6 L89.5,321.1 L90.0,321.3 L90.5,320.5 L91.0,320.3 L91.5,320.4 L92.0,320.8 L92.5,320.2 L93.0,319.6 L93.5,319.7 L94.0,320.3 L94.5,319.9 L95.0,320.0 L95.5,319.8 L96.0,320.6 L96.5,319.2 L97.0,320.5 L97.5,319.0 L98.0,320.3 L98.5,321.1 L99.0,320.1 L99.5,319.3 L100.0,319.6 L100.5,318.5 L101.0,319.4 L101.5,320.1 L102.0,318.0 L102.5,319.6 L103.0,319.1 L103.5,317.6 L104.0,318.7 L104.5,317.9 L105.0,318.7 L105.5,318.7 L106.0,319.6 L106.5,318.1 L107.0,317.0 L107.5,317.2 L108.0,316.9 L108.5,318.7 L109.0,318.9 L109.5,316.1 L110.0,317.4 L110.5,317.7 L111.0,317.0 L111.5,318.4 L112.0,317.0 L112.5,317.1 L113.0,318.1 L113.5,318.6 L114.0,317.5 L114.5,315.4 L115.0,318.7 L115.5,318.6 L116.0,317.2 L116.5,319.5 L117.0,319.4 L117.5,317.1 L118.0,316.9 L118.5,318.7 L119.0,318.5 L119.5,316.0 L120.0,315.9 L120.5,317.0 L121.0,316.4 L121.5,317.3 L122.0,316.1 L122.5,318.1 L123.0,316.0 L123.5,315.7 L124.0,314.6 L124.5,316.1 L125.0,316.9 L125.5,315.0 L126.0,315.2 L126.5,317.6 L127.0,315.9 L127.5,317.6 L128.0,318.2 L128.5,317.8 L129.0,315.5 L129.5,315.2 L130.0,316.0 L130.5,317.7 L131.0,316.3 L131.5,316.3 L132.0,316.5 L132.5,317.8 L133.0,318.1 L133.5,317.5 L134.0,316.4 L134.5,315.5 L135.0,317.6 L135.5,316.8 L136.0,316.0 L136.5,315.7 L137.0,314.1 L137.5,314.6 L138.0,315.9 L138.5,314.8 L139.0,316.8 L139.5,317.8 L140.0,315.3 L140.5,316.1 L141.0,315.4 L141.5,316.4 L142.0,315.4 L142.5,316.3 L143.0,315.9 L143.5,317.7 L144.0,317.4 L144.5,314.5 L145.0,314.6 L145.5,315.1 L146.0,314.4 L146.5,314.3 L147.0,316.3 L147.5,315.6 L148.0,316.9 L148.5,314.4 L149.0,317.6 L149.5,314.8 L150.0,317.2 L150.5,315.2 L151.0,316.6 L151.5,316.7 L152.0,314.4 L152.5,315.8 L153.0,317.6 L153.5,314.8 L154.0,316.6 L154.5,318.0 L155.0,318.6 L155.5,317.3 L156.0,317.3 L156.5,316.5 L157.0,315.8 L157.5,315.8 L158.0,318.4 L158.5,317.0 L159.0,317.9 L159.5,316.5 L160.0,316.0 L160.5,315.3 L161.0,314.8 L161.5,316.9 L162.0,315.1 L162.5,315.8 L163.0,316.1 L163.5,317.5 L164.0,315.9 L164.5,316.6 L165.0,316.5 L165.5,315.8 L166.0,315.4 L166.5,317.0 L167.0,314.7 L167.5,314.3 L168.0,314.0 L168.5,315.2 L169.0,313.4 L169.5,314.5 L170.0,313.5 L170.5,312.6 L171.0,316.0 L171.5,315.4 L172.0,315.7 L172.5,315.0 L173.0,314.0 L173.5,313.6 L174.0,316.4 L174.5,317.5 L175.0,315.4 L175.5,314.6 L176.0,316.1 L176.5,315.0 L177.0,315.7 L177.5,317.3 L178.0,316.3 L178.5,316.7 L179.0,314.5 L179.5,315.5 L180.0,316.0 L180.5,316.7 L181.0,313.7 L181.5,315.9 L182.0,316.6 L182.5,317.9 L183.0,316.3 L183.5,315.1 L184.0,314.4 L184.5,314.9 L185.0,317.5 L185.5,313.7 L186.0,314.2 L186.5,313.9 L187.0,317.3 L187.5,316.2 L188.0,316.5 L188.5,315.7 L189.0,315.4 L189.5,317.0 L190.0,315.2 L190.5,315.8 L191.0,315.5 L191.5,314.1 L192.0,315.1 L192.5,317.3 L193.0,318.0 L193.5,317.3 L194.0,315.6 L194.5,317.5 L195.0,316.8 L195.5,317.0 L196.0,316.3 L196.5,317.8 L197.0,314.7 L197.5,315.7 L198.0,315.8 L198.5,315.4 L199.0,315.1 L199.5,314.8 L200.0,313.6 L200.5,315.5 L201.0,316.0 L201.5,313.1 L202.0,313.8 L202.5,314.9 L203.0,314.7 L203.5,314.1 L204.0,312.9 L204.5,312.9 L205.0,315.6 L205.5,315.3 L206.0,313.8 L206.5,316.5 L207.0,316.3 L207.5,313.9 L208.0,315.9 L208.5,314.8 L209.0,314.8 L209.5,315.3 L210.0,315.3 L210.5,314.0 L211.0,314.8 L211.5,316.0 L212.0,316.3 L212.5,317.8 L213.0,316.7 L213.5,316.4 L214.0,316.8 L214.5,314.7 L215.0,317.0 L215.5,314.2 L216.0,314.5 L216.5,316.8 L217.0,316.6 L217.5,314.6 L218.0,314.8 L218.5,315.7 L219.0,313.3 L219.5,315.4 L220.0,314.2 L220.5,314.5 L221.0,312.7 L221.5,314.8 L222.0,316.0 L222.5,314.0 L223.0,314.2 L223.5,316.6 L224.0,314.2 L224.5,316.3 L225.0,315.1 L225.5,314.2 L226.0,315.4 L226.5,316.6 L227.0,314.9 L227.5,316.3 L228.0,313.6 L228.5,314.2 L229.0,315.0 L229.5,314.1 L230.0,314.3 L230.5,312.3 L231.0,315.7 L231.5,312.4 L232.0,313.3 L232.5,313.9 L233.0,314.0 L233.5,315.5 L234.0,313.3 L234.5,315.9 L235.0,316.4 L235.5,316.1 L236.0,314.6 L236.5,317.0 L237.0,316.8 L237.5,316.7 L238.0,316.0 L238.5,315.6 L239.0,315.7 L239.5,314.7 L240.0,316.6 L240.5,314.5 L241.0,313.7 L241.5,313.2 L242.0,315.1 L242.5,313.8 L243.0,313.6 L243.5,312.4 L244.0,313.1 L244.5,314.4 L245.0,314.5 L245.5,315.9 L246.0,313.8 L246.5,316.7 L247.0,315.8 L247.5,316.0 L248.0,314.1 L248.5,314.1 L249.0,312.9 L249.5,313.4" fill="none" stroke="#000" stroke-width="2.6" stroke-linejoin="round" stroke-linecap="round" />
<path d="M86.5,314.5 L87.0,313.9 L87.5,315.3 L88.0,313.4 L88.5,315.3 L89.0,312.8 L89.5,314.9 L90.0,312.6 L90.5,313.0 L91.0,313.5 L91.5,312.6 L92.0,313.5 L92.5,312.6 L93.0,312.3 L93.5,311.8 L94.0,311.7 L94.5,311.1 L95.0,310.6 L95.5,309.8 L96.0,311.6 L96.5,310.7 L97.0,312.2 L97.5,310.2 L98.0,309.8 L98.5,309.9 L99.0,310.9 L99.5,311.2 L100.0,311.2 L100.5,310.3 L101.0,310.2 L101.5,311.5 L102.0,310.5 L102.5,312.2 L103.0,310.1 L103.5,311.6 L104.0,308.7 L104.5,310.2 L105.0,309.7 L105.5,309.7 L106.0,309.4 L106.5,308.8 L107.0,309.2 L107.5,308.4 L108.0,309.3 L108.5,308.3 L109.0,310.4 L109.5,307.7 L110.0,308.5 L110.5,309.6 L111.0,309.2 L111.5,309.7 L112.0,310.4 L112.5,309.4 L113.0,308.7 L113.5,309.2 L114.0,308.0 L114.5,308.9 L115.0,308.7 L115.5,307.4 L116.0,307.7 L116.5,306.9 L117.0,308.3 L117.5,309.0 L118.0,307.7 L118.5,308.2 L119.0,307.2 L119.5,308.9 L120.0,307.4 L120.5,308.8 L121.0,308.0 L121.5,307.5 L122.0,308.7 L122.5,308.5 L123.0,308.1 L123.5,307.0 L124.0,309.4 L124.5,306.7 L125.0,308.7 L125.5,308.0 L126.0,307.3 L126.5,305.6 L127.0,305.8 L127.5,307.8 L128.0,308.0 L128.5,306.5 L129.0,308.1 L129.5,306.4 L130.0,306.9 L130.5,306.4 L131.0,308.2 L131.5,307.7 L132.0,306.4 L132.5,306.0 L133.0,306.5 L133.5,306.5 L134.0,305.1 L134.5,306.1 L135.0,306.3 L135.5,307.6 L136.0,307.6 L136.5,306.0 L137.0,305.5 L137.5,306.2 L138.0,306.4 L138.5,305.0 L139.0,306.9 L139.5,306.8 L140.0,308.1 L140.5,307.9 L141.0,306.7 L141.5,308.3 L142.0,306.7 L142.5,306.0 L143.0,306.2 L143.5,308.5 L144.0,307.4 L144.5,306.3 L145.0,305.7 L145.5,307.8 L146.0,306.3 L146.5,307.1 L147.0,307.7 L147.5,308.5 L148.0,307.3 L148.5,307.1 L149.0,308.4 L149.5,307.1 L150.0,306.8 L150.5,307.0 L151.0,307.5 L151.5,306.9 L152.0,307.5 L152.5,307.3 L153.0,307.7 L153.5,307.2 L154.0,306.6 L154.5,305.5 L155.0,306.9 L155.5,306.9 L156.0,306.5 L156.5,307.5 L157.0,307.0 L157.5,308.0 L158.0,306.2 L158.5,307.9 L159.0,306.4 L159.5,306.2 L160.0,306.0 L160.5,306.8 L161.0,305.6 L161.5,307.8 L162.0,306.6 L162.5,307.5 L163.0,306.1 L163.5,306.7 L164.0,306.4 L164.5,306.4 L165.0,305.4 L165.5,306.5 L166.0,305.1 L166.5,305.7 L167.0,305.4 L167.5,305.5 L168.0,307.6 L168.5,306.2 L169.0,307.0 L169.5,305.4 L170.0,306.2 L170.5,306.2 L171.0,307.0 L171.5,306.6 L172.0,307.0 L172.5,306.5 L173.0,308.2 L173.5,307.8 L174.0,306.0 L174.5,307.0 L175.0,307.3 L175.5,308.3 L176.0,307.3 L176.5,306.9 L177.0,307.1 L177.5,308.2 L178.0,307.1 L178.5,307.9 L179.0,307.9 L179.5,306.0 L180.0,307.4 L180.5,308.2 L181.0,306.4 L181.5,307.4 L182.0,305.3 L182.5,306.9 L183.0,306.8 L183.5,306.6 L184.0,306.8 L184.5,306.6 L185.0,307.8 L185.5,306.6 L186.0,307.3 L186.5,308.0 L187.0,306.0 L187.5,305.9 L188.0,307.2 L188.5,306.9 L189.0,306.2 L189.5,308.0 L190.0,307.1 L190.5,306.5 L191.0,307.2 L191.5,307.4 L192.0,307.3 L192.5,307.2 L193.0,308.3 L193.5,307.4 L194.0,307.6 L194.5,307.5 L195.0,308.3 L195.5,308.0 L196.0,308.1 L196.5,308.7 L197.0,308.6 L197.5,307.4 L198.0,306.8 L198.5,307.2 L199.0,307.5 L199.5,308.7 L200.0,308.8 L200.5,309.2 L201.0,308.0 L201.5,308.1 L202.0,308.5 L202.5,307.9 L203.0,309.8 L203.5,309.1 L204.0,309.4 L204.5,308.0 L205.0,308.7 L205.5,308.7 L206.0,307.4 L206.5,307.8 L207.0,307.6 L207.5,308.4 L208.0,308.4 L208.5,310.3 L209.0,308.2 L209.5,309.3 L210.0,308.9 L210.5,308.4 L211.0,308.7 L211.5,308.2 L212.0,308.6 L212.5,310.7 L213.0,310.1 L213.5,309.4 L214.0,309.9 L214.5,309.4 L215.0,310.8 L215.5,310.2 L216.0,308.9 L216.5,310.2 L217.0,309.2 L217.5,309.1 L218.0,311.1 L218.5,310.8 L219.0,309.1 L219.5,309.7 L220.0,310.1 L220.5,310.0 L221.0,308.4 L221.5,308.6 L222.0,310.1 L222.5,309.6 L223.0,309.3 L223.5,309.4 L224.0,309.0 L224.5,308.7 L225.0,308.5 L225.5,310.0 L226.0,309.8 L226.5,309.5 L227.0,308.5 L227.5,309.0 L228.0,309.9 L228.5,309.5 L229.0,309.5 L229.5,309.2 L230.0,309.2 L230.5,308.5 L231.0,310.0 L231.5,310.2 L232.0,310.0 L232.5,309.9 L233.0,309.9 L233.5,309.9 L234.0,308.8 L234.5,308.8 L235.0,308.9 L235.5,309.0 L236.0,309.4 L236.5,310.7 L237.0,309.5 L237.5,310.4 L238.0,309.7 L238.5,311.2 L239.0,310.7 L239.5,311.2 L240.0,310.5 L240.5,311.6 L241.0,310.7 L241.5,311.7 L242.0,310.6 L242.5,310.4 L243.0,310.2 L243.5,311.6 L244.0,311.7 L244.5,311.1 L245.0,312.1 L245.5,311.7 L246.0,311.4 L246.5,312.0 L247.0,311.4 L247.5,310.2 L248.0,311.6 L248.5,310.7 L249.0,312.6 L249.5,312.5" fill="none" stroke="#000" stroke-width="2.3" stroke-linejoin="round" stroke-linecap="round" />
<path d="M64.0,325.4 L64.5,325.0 L65.0,324.7 L65.5,324.7 L66.0,324.3 L66.5,324.5 L67.0,324.1 L67.5,323.9 L68.0,323.5 L68.5,323.3 L69.0,323.3 L69.5,323.2 L70.0,322.8 L70.5,323.1 L71.0,322.7 L71.5,322.8 L72.0,322.2 L72.5,322.1 L73.0,322.3 L73.5,321.8 L74.0,321.6 L74.5,321.5 L75.0,321.2 L75.5,321.3 L76.0,321.0 L76.5,321.4 L77.0,320.9 L77.5,320.5 L78.0,320.7 L78.5,319.9 L79.0,320.1 L79.5,319.4 L80.0,318.7 L80.5,319.1 L81.0,318.2 L81.5,318.8 L82.0,318.0 L82.5,318.4 L83.0,318.4 L83.5,317.6 L84.0,318.0 L84.5,317.2 L85.0,317.0 L85.5,317.0 L86.0,316.7 L86.5,316.5 L87.0,316.5 L87.5,316.8 L88.0,316.6 L88.5,315.8 L89.0,316.9 L89.5,317.0 L90.0,316.2 L90.5,316.1 L91.0,314.9 L91.5,314.7 L92.0,314.4 L92.5,314.2 L93.0,314.2 L93.5,314.7 L94.0,313.7 L94.5,313.9 L95.0,313.5 L95.5,315.1 L96.0,314.3 L96.5,313.4 L97.0,313.5 L97.5,313.6 L98.0,314.5 L98.5,313.2 L99.0,313.1 L99.5,314.6 L100.0,314.3 L100.5,313.6 L101.0,314.0 L101.5,314.0 L102.0,313.0 L102.5,314.4 L103.0,314.3 L103.5,314.3 L104.0,313.7 L104.5,312.8 L105.0,312.8 L105.5,313.3 L106.0,313.2 L106.5,314.3 L107.0,313.5 L107.5,313.0 L108.0,312.7 L108.5,313.8 L109.0,313.3 L109.5,313.9 L110.0,313.3 L110.5,313.7 L111.0,313.3 L111.5,313.5 L112.0,313.3 L112.5,312.9 L113.0,313.7 L113.5,312.5 L114.0,312.2 L114.5,313.4 L115.0,313.1 L115.5,313.1 L116.0,312.8 L116.5,311.6 L117.0,312.9 L117.5,313.3 L118.0,313.1 L118.5,312.2 L119.0,312.1 L119.5,312.4 L120.0,311.9 L120.5,312.4 L121.0,311.7 L121.5,312.5 L122.0,312.4 L122.5,311.9 L123.0,311.1 L123.5,311.3 L124.0,312.0 L124.5,311.3 L125.0,311.6 L125.5,311.5 L126.0,312.0 L126.5,311.4 L127.0,310.9 L127.5,311.5 L128.0,311.9 L128.5,311.7 L129.0,311.9 L129.5,312.1 L130.0,311.8 L130.5,312.4 L131.0,312.4 L131.5,311.7 L132.0,312.7 L132.5,311.6 L133.0,311.7 L133.5,311.1 L134.0,311.4 L134.5,312.0 L135.0,311.5 L135.5,310.7 L136.0,312.3 L136.5,312.1 L137.0,311.3 L137.5,312.1 L138.0,311.2 L138.5,311.1 L139.0,310.8 L139.5,310.5 L140.0,311.2 L140.5,310.7 L141.0,311.1 L141.5,311.6 L142.0,311.8 L142.5,310.5 L143.0,311.0 L143.5,310.0 L144.0,311.2 L144.5,310.5 L145.0,311.3 L145.5,311.1 L146.0,309.9 L146.5,310.7 L147.0,311.2 L147.5,311.2 L148.0,311.1 L148.5,310.9 L149.0,310.2 L149.5,311.2 L150.0,309.9 L150.5,310.2 L151.0,309.9 L151.5,309.7 L152.0,309.9 L152.5,310.2 L153.0,310.1 L153.5,309.8 L154.0,309.7 L154.5,310.8 L155.0,310.5 L155.5,310.3 L156.0,311.0 L156.5,311.7 L157.0,311.1 L157.5,311.9 L158.0,311.6 L158.5,311.4 L159.0,310.9 L159.5,310.2 L160.0,310.9 L160.5,310.0 L161.0,310.8 L161.5,310.9 L162.0,310.2 L162.5,310.5 L163.0,310.3 L163.5,311.1 L164.0,310.8 L164.5,311.4 L165.0,310.4 L165.5,310.1 L166.0,310.4 L166.5,310.3 L167.0,309.8 L167.5,309.8 L168.0,309.1 L168.5,309.5 L169.0,310.2 L169.5,310.7 L170.0,311.3 L170.5,310.4 L171.0,310.5 L171.5,311.5 L172.0,311.4 L172.5,311.4 L173.0,311.8 L173.5,311.1 L174.0,311.6 L174.5,311.8 L175.0,311.9 L175.5,311.7 L176.0,310.5 L176.5,310.8 L177.0,311.3 L177.5,311.0 L178.0,311.3 L178.5,310.2 L179.0,311.6 L179.5,311.3 L180.0,310.7 L180.5,311.1 L181.0,310.8 L181.5,310.9 L182.0,312.2 L182.5,311.2 L183.0,311.7 L183.5,311.7 L184.0,310.9 L184.5,310.9 L185.0,311.2 L185.5,310.7 L186.0,310.8 L186.5,311.6 L187.0,311.1 L187.5,311.3 L188.0,310.8 L188.5,311.1 L189.0,312.6 L189.5,311.4 L190.0,312.4 L190.5,311.2 L191.0,312.0 L191.5,311.3 L192.0,311.0 L192.5,310.7 L193.0,311.5 L193.5,312.1 L194.0,312.1 L194.5,310.7 L195.0,311.1 L195.5,310.8 L196.0,310.7 L196.5,311.4 L197.0,311.0 L197.5,310.4 L198.0,311.7 L198.5,311.3 L199.0,311.3 L199.5,311.9 L200.0,311.5 L200.5,310.8 L201.0,311.7 L201.5,311.8 L202.0,310.6 L202.5,310.6 L203.0,311.8 L203.5,311.9 L204.0,312.1 L204.5,311.8 L205.0,311.2 L205.5,311.9 L206.0,312.3 L206.5,311.1 L207.0,311.5 L207.5,311.7 L208.0,312.1 L208.5,311.7 L209.0,311.8 L209.5,311.9 L210.0,311.2 L210.5,312.2 L211.0,311.1 L211.5,312.6 L212.0,311.2 L212.5,310.9 L213.0,310.8 L213.5,310.9 L214.0,312.0 L214.5,311.4 L215.0,311.6 L215.5,311.2 L216.0,310.9 L216.5,311.0 L217.0,311.8 L217.5,311.4 L218.0,311.3 L218.5,311.5 L219.0,312.5 L219.5,311.4 L220.0,312.1 L220.5,312.0 L221.0,311.3 L221.5,312.6 L222.0,312.7 L222.5,312.0 L223.0,311.5 L223.5,312.3 L224.0,312.6 L224.5,312.7 L225.0,312.3 L225.5,312.3 L226.0,312.3 L226.5,311.5 L227.0,311.2 L227.5,312.0 L228.0,310.8 L228.5,311.7 L229.0,311.1 L229.5,310.9 L230.0,311.5 L230.5,312.1 L231.0,312.1 L231.5,311.6 L232.0,312.6 L232.5,311.3 L233.0,312.3 L233.5,311.6 L234.0,312.8 L234.5,311.2 L235.0,311.7 L235.5,311.5 L236.0,312.5 L236.5,311.7 L237.0,312.1 L237.5,312.2 L238.0,312.7 L238.5,312.9 L239.0,311.6 L239.5,311.8 L240.0,312.8 L240.5,311.7 L241.0,312.4 L241.5,310.8 L242.0,311.2 L242.5,312.3 L243.0,312.7 L243.5,312.0 L244.0,312.7 L244.5,311.5 L245.0,312.1 L245.5,311.9 L246.0,311.2 L246.5,311.6 L247.0,311.6 L247.5,312.1 L248.0,312.9 L248.5,312.5 L249.0,312.2 L249.5,312.8" fill="none" stroke="#7a7a7a" stroke-width="3.0" stroke-linejoin="round" stroke-linecap="round" />
<line x1="70.7" y1="326.6" x2="110.9" y2="355.6" stroke="#000" stroke-width="1.4"/>
<line x1="56.9" y1="352.9" x2="110.9" y2="388.8" stroke="#000" stroke-width="1.4"/>
<line x1="70.7" y1="391.6" x2="110.9" y2="422.4" stroke="#000" stroke-width="1.4"/>
<rect x="120.6" y="340" width="70.5" height="21.5" fill="#fff" stroke="#000" stroke-width="1.3"/>
<text x="135.1" y="356.6" font-family="'Liberation Sans', sans-serif" font-size="12.5" textLength="39.8" lengthAdjust="spacingAndGlyphs">30 min</text>
<rect x="120.6" y="373.6" width="70.5" height="21.5" fill="#fff" stroke="#000" stroke-width="1.3"/>
<text x="135.1" y="390.2" font-family="'Liberation Sans', sans-serif" font-size="12.5" textLength="39.8" lengthAdjust="spacingAndGlyphs">60 min</text>
<rect x="120.6" y="407.7" width="70.5" height="21.5" fill="#fff" stroke="#000" stroke-width="1.3"/>
<text x="135.1" y="424.3" font-family="'Liberation Sans', sans-serif" font-size="12.5" textLength="39.8" lengthAdjust="spacingAndGlyphs">90 min</text>
<text x="59.6" y="465.6" font-family="'Liberation Sans', sans-serif" font-weight="bold" font-size="12.6" textLength="34.8" lengthAdjust="spacingAndGlyphs">5 min</text>
<line x1="38.1" y1="468.6" x2="115" y2="468.6" stroke="#000" stroke-width="2"/>
<text x="273.4" y="285.6" font-family="'Liberation Sans', sans-serif" font-weight="bold" font-size="25" stroke="#000" stroke-width="0.5">C</text>
<line x1="293" y1="321" x2="293" y2="456.2" stroke="#000" stroke-width="1.6"/>
<polygon points="293.1,309.8 286.5,322.9 300,322.9" fill="#000"/>
<text transform="translate(284.3,439) rotate(-90)" font-family="'Liberation Sans', sans-serif" font-weight="bold" font-size="13.5" textLength="115.5" lengthAdjust="spacingAndGlyphs">light transmission</text>
<path d="M298.3,444.0 L312.8,444.0" fill="none" stroke="#000" stroke-width="2.6" stroke-linejoin="round" stroke-linecap="round" />
<path d="M312.8,440.0 L312.8,448.5" fill="none" stroke="#000" stroke-width="1.4" stroke-linejoin="round" stroke-linecap="round" />
<path d="M313.0,444.0 L313.1,441.6 L313.2,439.2 L313.4,436.8 L313.5,434.4 L313.6,432.0 L313.7,429.6 L313.8,427.2 L314.0,424.8 L314.1,422.4 L314.2,420.0 L314.3,417.5 L314.4,415.0 L314.6,412.5 L314.7,410.0 L314.8,407.5 L314.9,405.0 L315.0,402.5 L315.2,400.0 L315.3,397.5 L315.4,395.0 L315.5,392.5 L315.6,389.9 L315.8,387.3 L315.9,384.7 L316.0,382.1 L316.1,379.5 L316.2,377.0 L316.4,374.6 L316.5,372.2 L316.6,370.0 L316.7,368.3 L316.8,366.7 L316.9,365.1 L317.0,363.6 L317.1,362.0 L317.2,360.6 L317.3,359.1 L317.4,357.7 L317.5,356.3 L317.6,355.0 L317.7,353.9 L317.8,352.9 L317.9,351.9 L317.9,350.9 L318.0,349.9 L318.1,349.0 L318.2,348.1 L318.3,347.2 L318.4,346.3 L318.5,345.5 L318.6,344.9 L318.7,344.4 L318.8,343.9 L318.8,343.4 L318.9,342.9 L319.0,342.4 L319.1,341.9 L319.2,341.4 L319.3,340.9 L319.4,340.4 L319.5,339.8 L319.6,339.2 L319.7,338.5 L319.8,337.9 L320.0,337.2 L320.1,336.5" fill="none" stroke="#7a7a7a" stroke-width="2.6" stroke-linejoin="round" stroke-linecap="round" />
<path d="M319.8,337.9 L320.0,337.2 L320.1,336.5 L320.2,335.9 L320.3,335.2 L320.5,334.6 L320.6,334.0 L320.7,333.5 L320.8,332.9 L321.0,332.4 L321.1,331.8 L321.2,331.3 L321.4,330.8 L321.5,330.3 L321.7,329.8 L321.8,329.3 L322.0,329.0 L322.5,327.7 L323.0,326.9 L323.5,325.8 L324.0,325.1 L324.5,324.0 L325.0,323.4 L325.5,322.4 L326.0,321.1 L326.5,320.3 L327.0,319.9 L327.5,319.1 L328.0,318.4 L328.5,317.6 L329.0,317.2 L329.5,315.9 L330.0,315.8 L330.5,315.0 L331.0,314.7 L331.5,313.7 L332.0,312.8 L332.5,312.8 L333.0,312.5 L333.5,311.8 L334.0,312.0 L334.5,311.3 L335.0,310.8 L335.5,310.8 L336.0,311.0 L336.5,310.4 L337.0,310.1 L337.5,309.2 L338.0,309.4 L338.5,309.6 L339.0,309.5 L339.5,308.8 L340.0,308.9 L340.5,308.5 L341.0,308.4 L341.5,308.0 L342.0,308.7 L342.5,308.4 L343.0,307.5 L343.5,307.4 L344.0,307.4 L344.5,307.6 L345.0,307.4 L345.5,306.9 L346.0,307.1 L346.5,306.5 L347.0,306.0 L347.5,306.3 L348.0,306.1 L348.5,306.6 L349.0,305.9 L349.5,305.6 L350.0,305.7 L350.5,305.8 L351.0,304.8 L351.5,304.6 L352.0,306.0 L352.5,305.1 L353.0,304.1 L353.5,305.1 L354.0,304.3 L354.5,304.3 L355.0,304.4 L355.5,305.0 L356.0,305.1 L356.5,305.3 L357.0,304.8 L357.5,303.5 L358.0,304.6 L358.5,303.9 L359.0,303.7 L359.5,303.2 L360.0,303.3 L360.5,302.7 L361.0,303.1 L361.5,304.4 L362.0,302.8 L362.5,302.8 L363.0,303.0 L363.5,302.2 L364.0,302.3 L364.5,302.4 L365.0,303.3 L365.5,303.1 L366.0,303.0 L366.5,301.5 L367.0,302.3 L367.5,302.7 L368.0,302.0 L368.5,303.1 L369.0,301.7 L369.5,301.7 L370.0,301.4 L370.5,302.7 L371.0,303.2 L371.5,301.3 L372.0,301.5 L372.5,302.0 L373.0,302.2 L373.5,300.7 L374.0,302.3 L374.5,301.8 L375.0,301.3 L375.5,302.4 L376.0,301.4 L376.5,301.5 L377.0,302.2 L377.5,301.4 L378.0,302.3 L378.5,300.7 L379.0,300.4 L379.5,301.4 L380.0,301.0 L380.5,300.9 L381.0,301.2 L381.5,301.5 L382.0,300.8 L382.5,300.7 L383.0,301.9 L383.5,301.9 L384.0,302.0 L384.5,301.2 L385.0,301.2 L385.5,299.7 L386.0,301.4 L386.5,299.8 L387.0,299.3 L387.5,301.4 L388.0,300.3 L388.5,299.8 L389.0,300.6 L389.5,300.7 L390.0,299.6 L390.5,299.6 L391.0,300.5 L391.5,300.2 L392.0,298.6 L392.5,299.1 L393.0,299.6 L393.5,299.9 L394.0,299.8 L394.5,299.6 L395.0,299.8 L395.5,298.9 L396.0,298.0 L396.5,299.7 L397.0,299.2 L397.5,299.7 L398.0,300.1 L398.5,300.5 L399.0,299.9 L399.5,299.7 L400.0,299.7 L400.5,300.8 L401.0,300.4 L401.5,299.6 L402.0,299.6 L402.5,300.3 L403.0,299.6 L403.5,299.9 L404.0,298.8 L404.5,299.8 L405.0,300.4 L405.5,301.2 L406.0,300.8 L406.5,299.2 L407.0,300.2 L407.5,299.9 L408.0,299.1 L408.5,299.5 L409.0,299.3 L409.5,298.6 L410.0,300.1 L410.5,299.5 L411.0,298.4 L411.5,299.6 L412.0,300.1 L412.5,300.1 L413.0,300.2 L413.5,298.4 L414.0,299.3 L414.5,298.6 L415.0,299.6 L415.5,300.1 L416.0,299.5 L416.5,299.6 L417.0,300.8 L417.5,298.7 L418.0,299.6 L418.5,298.3 L419.0,300.3 L419.5,298.7 L420.0,300.1 L420.5,299.2 L421.0,300.6 L421.5,300.0 L422.0,298.9 L422.5,299.6 L423.0,299.7 L423.5,298.6 L424.0,299.4 L424.5,299.9 L425.0,298.5 L425.5,298.7 L426.0,299.5 L426.5,300.3 L427.0,300.0 L427.5,299.8 L428.0,300.4 L428.5,298.7 L429.0,300.5 L429.5,299.0 L430.0,300.3 L430.5,300.3 L431.0,298.5 L431.5,300.5 L432.0,298.5 L432.5,300.2 L433.0,299.5 L433.5,300.0 L434.0,299.6 L434.5,298.7 L435.0,299.2 L435.5,300.9 L436.0,300.8 L436.5,299.8 L437.0,300.1 L437.5,300.8 L438.0,300.2 L438.5,300.3 L439.0,299.9 L439.5,300.4 L440.0,298.5 L440.5,299.1 L441.0,298.5 L441.5,298.8 L442.0,300.9 L442.5,299.3 L443.0,299.6 L443.5,299.3 L444.0,300.7 L444.5,299.5 L445.0,301.3 L445.5,299.9 L446.0,300.1 L446.5,300.0 L447.0,301.8 L447.5,299.8 L448.0,299.6 L448.5,300.8 L449.0,300.4 L449.5,300.6 L450.0,301.4 L450.5,301.3 L451.0,301.7 L451.5,300.0 L452.0,301.8 L452.5,301.7 L453.0,301.5 L453.5,300.9 L454.0,299.7 L454.5,299.7 L455.0,299.6 L455.5,300.6 L456.0,301.2 L456.5,302.0 L457.0,300.5 L457.5,300.5 L458.0,299.6 L458.5,301.5 L459.0,301.0 L459.5,301.5 L460.0,300.9 L460.5,301.1 L461.0,300.5 L461.5,300.2 L462.0,299.9 L462.5,300.9 L463.0,301.6 L463.5,301.4 L464.0,301.7 L464.5,299.7 L465.0,301.0 L465.5,299.2 L466.0,301.1 L466.5,299.7 L467.0,300.5 L467.5,300.9 L468.0,299.7 L468.5,300.2 L469.0,299.2 L469.5,300.5 L470.0,300.7 L470.5,300.9 L471.0,299.4 L471.5,298.9 L472.0,299.2 L472.5,299.7 L473.0,300.7 L473.5,300.7 L474.0,299.1 L474.5,299.7 L475.0,300.1 L475.5,299.6 L476.0,300.6 L476.5,300.2 L477.0,300.8 L477.5,302.3 L478.0,301.2 L478.5,300.4 L479.0,300.7 L479.5,301.7 L480.0,300.9 L480.5,300.3 L481.0,301.3 L481.5,301.7 L482.0,300.3 L482.5,301.5 L483.0,301.5 L483.5,300.9 L484.0,300.8 L484.5,299.8 L485.0,299.4 L485.5,300.8 L486.0,299.8 L486.5,299.9 L487.0,299.7 L487.5,300.0 L488.0,300.5 L488.5,300.0 L489.0,301.9 L489.5,299.9 L490.0,300.1 L490.5,301.4 L491.0,299.8 L491.5,300.0 L492.0,300.4 L492.5,299.4 L493.0,300.3 L493.5,301.0 L494.0,300.0 L494.5,301.1 L495.0,302.3 L495.5,300.8 L496.0,302.1 L496.5,301.0 L497.0,301.4 L497.5,301.1 L498.0,301.9 L498.5,301.2 L499.0,301.6 L499.5,302.0 L500.0,300.7 L500.5,302.0 L501.0,300.6 L501.5,301.8 L502.0,301.3 L502.5,301.7 L503.0,301.4 L503.5,301.9 L504.0,301.9 L504.5,302.3 L505.0,301.8 L505.5,301.7 L506.0,302.3 L506.5,301.5 L507.0,301.1 L507.5,301.3 L508.0,302.3 L508.5,302.8 L509.0,302.2 L509.5,302.4 L510.0,301.2 L510.5,302.4 L511.0,302.5 L511.5,301.1 L512.0,301.4 L512.5,302.4 L513.0,303.2 L513.5,301.9 L514.0,302.3 L514.5,301.3 L515.0,302.1 L515.5,301.3 L516.0,300.9 L516.5,301.7" fill="none" stroke="#878787" stroke-width="3.9" stroke-linejoin="round" stroke-linecap="round" />
<path d="M313.0,444.0 L313.4,443.2 L313.7,442.4 L314.1,441.6 L314.4,440.8 L314.8,440.0 L315.1,439.2 L315.5,438.4 L315.8,437.6 L316.2,436.8 L316.5,436.0 L316.8,435.2 L317.1,434.4 L317.5,433.6 L317.8,432.8 L318.1,432.0 L318.4,431.1 L318.7,430.3 L318.9,429.6 L319.2,428.8 L319.5,428.0 L319.7,427.3 L320.0,426.7 L320.2,426.0 L320.4,425.4 L320.6,424.7 L320.8,424.1 L321.1,423.4 L321.3,422.8 L321.5,422.1 L321.7,421.5 L321.9,420.9 L322.1,420.2 L322.3,419.6 L322.5,419.0 L322.7,418.3 L322.9,417.7 L323.1,417.1 L323.3,416.4 L323.6,415.7 L323.8,415.0 L324.1,414.1 L324.4,413.1 L324.8,412.2 L325.1,411.2 L325.5,410.1 L325.9,409.1 L326.2,408.1 L326.6,407.0 L326.9,406.0 L327.3,405.0 L327.7,404.0 L328.0,403.0 L328.4,402.0 L328.7,401.0 L329.1,400.0 L329.4,399.0 L329.8,398.0 L330.1,397.0 L330.5,396.0 L330.8,395.0 L331.2,394.0 L331.5,393.0 L331.9,392.0 L332.2,391.0 L332.6,389.9 L332.9,388.9 L333.3,387.9 L333.6,386.9 L334.0,386.0 L334.3,385.0 L334.6,384.1 L334.9,383.2 L335.2,382.4 L335.4,381.5 L335.7,380.6 L336.0,379.8 L336.2,379.0 L336.5,378.1 L336.8,377.4 L337.1,376.6 L337.4,376.0 L337.6,375.4 L337.9,374.8 L338.1,374.3 L338.4,373.8 L338.7,373.2 L339.0,372.7 L339.2,372.1 L339.5,371.6 L339.8,371.0 L340.1,370.3 L340.4,369.7 L340.7,369.0 L341.0,368.3 L341.3,367.6 L341.6,367.0 L342.0,366.3 L342.3,365.6 L342.7,364.9 L343.1,364.2 L343.6,363.4 L344.2,362.6 L344.7,361.8 L345.0,361.3 L345.5,360.8 L346.0,359.8 L346.5,359.4 L347.0,358.7 L347.5,358.1 L348.0,357.6 L348.5,357.3 L349.0,356.8 L349.5,356.0 L350.0,355.7 L350.5,355.3 L351.0,354.3 L351.5,354.0 L352.0,354.0 L352.5,353.3 L353.0,353.1 L353.5,352.6 L354.0,351.9 L354.5,351.7 L355.0,351.6 L355.5,350.8 L356.0,350.7 L356.5,349.9 L357.0,349.5 L357.5,349.1 L358.0,348.9 L358.5,348.4 L359.0,347.9 L359.5,347.8 L360.0,347.1 L360.5,346.9 L361.0,346.2 L361.5,346.5 L362.0,345.8 L362.5,345.4 L363.0,345.6 L363.5,344.9 L364.0,344.7 L364.5,344.8 L365.0,343.9 L365.5,343.5 L366.0,343.0 L366.5,343.0 L367.0,342.7 L367.5,342.7 L368.0,342.6 L368.5,341.9 L369.0,341.5 L369.5,341.6 L370.0,342.1 L370.5,341.9 L371.0,341.6 L371.5,341.8 L372.0,341.3 L372.5,340.5 L373.0,340.9 L373.5,341.1 L374.0,340.3 L374.5,340.2 L375.0,339.9 L375.5,339.2 L376.0,339.7 L376.5,338.8 L377.0,339.2 L377.5,338.6 L378.0,339.3 L378.5,338.6 L379.0,338.8 L379.5,338.5 L380.0,338.1 L380.5,337.6 L381.0,337.4 L381.5,338.1 L382.0,338.0 L382.5,337.5 L383.0,337.2 L383.5,337.9 L384.0,337.0 L384.5,337.3 L385.0,337.1 L385.5,337.9 L386.0,337.2 L386.5,337.1 L387.0,337.4 L387.5,336.1 L388.0,336.8 L388.5,336.0 L389.0,335.8 L389.5,336.0 L390.0,336.1 L390.5,336.5 L391.0,336.1 L391.5,335.3 L392.0,335.9 L392.5,336.3 L393.0,335.2 L393.5,335.2 L394.0,334.8 L394.5,335.9 L395.0,336.2 L395.5,335.3 L396.0,335.7 L396.5,335.2 L397.0,334.0 L397.5,334.2 L398.0,335.6 L398.5,334.4 L399.0,334.6 L399.5,334.4 L400.0,334.8 L400.5,334.2 L401.0,334.3 L401.5,334.0 L402.0,334.1 L402.5,334.3 L403.0,334.9 L403.5,334.2 L404.0,335.3 L404.5,333.9 L405.0,334.6 L405.5,333.4 L406.0,335.1 L406.5,334.0 L407.0,333.8 L407.5,334.1 L408.0,333.8 L408.5,333.4 L409.0,334.0 L409.5,332.6 L410.0,332.6 L410.5,332.2 L411.0,332.8 L411.5,332.5 L412.0,333.3 L412.5,332.6 L413.0,332.2 L413.5,332.4 L414.0,333.3 L414.5,333.8 L415.0,333.9 L415.5,332.8 L416.0,333.4 L416.5,332.6 L417.0,333.7 L417.5,333.2 L418.0,332.1 L418.5,332.3 L419.0,332.2 L419.5,332.7 L420.0,333.1 L420.5,332.0 L421.0,333.0 L421.5,332.9 L422.0,332.8 L422.5,333.1 L423.0,332.5 L423.5,333.5 L424.0,332.5 L424.5,332.3 L425.0,331.8 L425.5,332.9 L426.0,332.4 L426.5,332.8 L427.0,332.9 L427.5,333.2 L428.0,332.9 L428.5,332.2 L429.0,332.5 L429.5,332.2 L430.0,332.4 L430.5,332.6 L431.0,333.5 L431.5,332.4 L432.0,333.6 L432.5,333.4 L433.0,333.2 L433.5,332.4 L434.0,332.8 L434.5,333.0 L435.0,331.9 L435.5,331.2 L436.0,331.0 L436.5,331.5 L437.0,330.9 L437.5,331.3 L438.0,331.6 L438.5,332.7 L439.0,332.0 L439.5,332.0 L440.0,332.6 L440.5,332.6 L441.0,331.3 L441.5,332.6 L442.0,331.9 L442.5,332.5 L443.0,331.4 L443.5,331.5 L444.0,332.4 L444.5,332.4 L445.0,331.5 L445.5,331.7 L446.0,330.6 L446.5,331.9 L447.0,331.4 L447.5,331.8 L448.0,331.1 L448.5,332.7 L449.0,331.6 L449.5,332.6 L450.0,331.3 L450.5,331.9 L451.0,331.4 L451.5,331.6 L452.0,331.9 L452.5,331.6 L453.0,331.2 L453.5,332.1 L454.0,332.7 L454.5,332.6 L455.0,330.9 L455.5,332.3 L456.0,332.7 L456.5,332.6 L457.0,331.3 L457.5,332.4 L458.0,332.0 L458.5,331.3 L459.0,331.6 L459.5,330.9 L460.0,331.0 L460.5,331.9 L461.0,330.9 L461.5,330.8 L462.0,332.2 L462.5,331.4 L463.0,331.9 L463.5,332.0 L464.0,332.1 L464.5,331.1 L465.0,332.1 L465.5,331.1 L466.0,332.3 L466.5,331.6 L467.0,332.7 L467.5,332.1 L468.0,331.0 L468.5,331.2 L469.0,331.2 L469.5,330.8 L470.0,330.6 L470.5,331.1 L471.0,330.9 L471.5,331.8 L472.0,331.9 L472.5,330.7 L473.0,330.8 L473.5,330.5 L474.0,332.3 L474.5,331.2 L475.0,331.2 L475.5,331.5 L476.0,332.1 L476.5,330.8 L477.0,332.3 L477.5,332.0 L478.0,331.9 L478.5,331.7 L479.0,332.3 L479.5,332.9 L480.0,331.7 L480.5,332.6 L481.0,332.5 L481.5,332.8 L482.0,331.9 L482.5,331.2 L483.0,332.6 L483.5,331.5 L484.0,331.8 L484.5,332.4 L485.0,331.7 L485.5,332.2 L486.0,331.7 L486.5,332.1 L487.0,331.7 L487.5,331.8 L488.0,332.6 L488.5,331.6 L489.0,332.4 L489.5,331.9 L490.0,330.8 L490.5,331.6 L491.0,330.6 L491.5,330.5 L492.0,331.6 L492.5,332.4 L493.0,332.4 L493.5,332.2 L494.0,331.0 L494.5,332.4 L495.0,331.0 L495.5,332.5 L496.0,332.9 L496.5,331.0 L497.0,330.7 L497.5,332.0 L498.0,331.0 L498.5,331.6 L499.0,332.4 L499.5,332.4 L500.0,331.4 L500.5,331.1 L501.0,332.8 L501.5,331.6 L502.0,331.3 L502.5,332.2 L503.0,331.6 L503.5,331.0 L504.0,332.3 L504.5,331.8 L505.0,332.3 L505.5,331.9 L506.0,333.0 L506.5,332.7 L507.0,331.8 L507.5,332.5 L508.0,332.4 L508.5,332.1 L509.0,332.3 L509.5,332.0 L510.0,332.3 L510.5,332.6 L511.0,332.9 L511.5,332.0 L512.0,331.8 L512.5,333.0 L513.0,333.2 L513.5,333.2 L514.0,333.1 L514.5,332.6 L515.0,332.8 L515.5,331.8 L516.0,331.8 L516.5,333.2" fill="none" stroke="#000" stroke-width="2.0" stroke-linejoin="round" stroke-linecap="round" />
<path d="M313.0,444.0 L313.3,442.6 L313.5,441.2 L313.8,439.8 L314.0,438.4 L314.3,437.0 L314.5,435.6 L314.8,434.2 L315.0,432.8 L315.3,431.4 L315.5,430.0 L315.8,428.5 L316.0,427.0 L316.2,425.5 L316.5,423.9 L316.7,422.4 L317.0,420.9 L317.2,419.3 L317.5,417.9 L317.7,416.4 L318.0,415.0 L318.2,413.8 L318.5,412.7 L318.7,411.5 L319.0,410.4 L319.2,409.3 L319.5,408.3 L319.7,407.2 L320.0,406.1 L320.2,405.1 L320.5,404.0 L320.8,403.0 L321.0,402.0 L321.3,401.0 L321.6,400.0 L321.9,399.0 L322.1,398.0 L322.4,397.0 L322.7,396.0 L322.9,395.1 L323.2,394.1 L323.4,393.2 L323.7,392.3 L323.9,391.5 L324.1,390.6 L324.3,389.7 L324.5,388.9 L324.7,388.0 L325.0,387.2 L325.2,386.3 L325.4,385.5 L325.6,384.7 L325.8,383.9 L326.0,383.1 L326.2,382.3 L326.5,381.5 L326.7,380.8 L326.9,380.0 L327.1,379.2 L327.4,378.5 L327.6,377.7 L327.8,377.0 L328.1,376.2 L328.3,375.5 L328.6,374.8 L328.9,374.0 L329.1,373.3 L329.4,372.6 L329.7,371.9 L329.9,371.2 L330.2,370.5 L330.5,369.9 L330.7,369.2 L331.0,368.6 L331.2,367.9 L331.5,367.3 L331.8,366.7 L332.0,366.1 L332.3,365.5 L332.6,364.9 L332.9,364.3 L333.2,363.8 L333.4,363.3 L333.7,362.9 L334.0,362.4 L334.3,361.9 L334.6,361.5 L334.9,361.1 L335.2,360.6 L335.5,360.2 L335.8,359.8 L336.1,359.4 L336.4,359.0 L336.6,358.7 L336.9,358.3 L337.2,358.0 L337.5,357.6 L337.8,357.3 L338.1,356.9 L338.4,356.6 L338.8,356.2 L339.3,355.7 L339.8,355.2 L340.4,354.6 L340.9,354.1 L341.5,353.6 L342.1,353.0 L342.8,352.5 L343.4,352.0 L344.1,351.5 L344.8,351.0 L345.0,350.9 L345.5,350.7 L346.0,350.2 L346.5,349.9 L347.0,349.7 L347.5,349.4 L348.0,349.4 L348.5,349.1 L349.0,349.0 L349.5,348.7 L350.0,348.3 L350.5,348.2 L351.0,348.2 L351.5,348.2 L352.0,347.7 L352.5,347.7 L353.0,347.5 L353.5,347.3 L354.0,346.6 L354.5,346.4 L355.0,346.2 L355.5,346.4 L356.0,345.9 L356.5,345.9 L357.0,345.8 L357.5,345.2 L358.0,345.2 L358.5,344.5 L359.0,344.6 L359.5,344.6 L360.0,344.5 L360.5,343.6 L361.0,343.5 L361.5,343.5 L362.0,343.0 L362.5,343.2 L363.0,342.9 L363.5,342.8 L364.0,343.0 L364.5,343.0 L365.0,342.6 L365.5,342.4 L366.0,342.4 L366.5,342.1 L367.0,341.6 L367.5,341.9 L368.0,341.9 L368.5,341.3 L369.0,340.9 L369.5,340.3 L370.0,340.5 L370.5,340.1 L371.0,340.3 L371.5,339.6 L372.0,339.8 L372.5,340.5 L373.0,339.7 L373.5,339.6 L374.0,339.3 L374.5,338.8 L375.0,338.6 L375.5,338.8 L376.0,339.0 L376.5,339.1 L377.0,338.5 L377.5,338.7 L378.0,338.4 L378.5,338.6 L379.0,338.3 L379.5,336.9 L380.0,337.0 L380.5,336.8 L381.0,337.6 L381.5,337.9 L382.0,337.7 L382.5,336.8 L383.0,336.9 L383.5,336.9 L384.0,336.4 L384.5,337.4 L385.0,337.2 L385.5,336.0 L386.0,336.5 L386.5,336.4 L387.0,336.1 L387.5,335.4 L388.0,335.7 L388.5,335.3 L389.0,336.7 L389.5,336.0 L390.0,334.9 L390.5,335.5 L391.0,336.2 L391.5,335.9 L392.0,335.2 L392.5,335.7 L393.0,336.0 L393.5,334.6 L394.0,334.3 L394.5,335.3 L395.0,334.6 L395.5,334.7 L396.0,334.5 L396.5,333.4 L397.0,333.6 L397.5,333.8 L398.0,334.0 L398.5,334.0 L399.0,333.7 L399.5,333.7 L400.0,334.8 L400.5,334.1 L401.0,334.5 L401.5,333.3 L402.0,333.4 L402.5,333.6 L403.0,333.0 L403.5,334.1 L404.0,332.6 L404.5,332.8 L405.0,333.7 L405.5,332.8 L406.0,332.4 L406.5,333.5 L407.0,333.2 L407.5,332.7 L408.0,332.0 L408.5,333.2 L409.0,332.3 L409.5,332.9 L410.0,332.4 L410.5,332.5 L411.0,332.9 L411.5,332.1 L412.0,333.7 L412.5,332.4 L413.0,332.4 L413.5,333.1 L414.0,332.1 L414.5,332.4 L415.0,333.4 L415.5,332.4 L416.0,331.9 L416.5,332.5 L417.0,332.3 L417.5,333.4 L418.0,332.2 L418.5,332.1 L419.0,333.1 L419.5,333.5 L420.0,332.7 L420.5,331.8 L421.0,331.5 L421.5,332.7 L422.0,332.5 L422.5,332.4 L423.0,332.7 L423.5,331.0 L424.0,331.9 L424.5,332.1 L425.0,332.2 L425.5,331.1 L426.0,332.0 L426.5,330.6 L427.0,331.9 L427.5,331.4 L428.0,332.5 L428.5,332.3 L429.0,332.7 L429.5,332.7 L430.0,332.3 L430.5,331.9 L431.0,332.0 L431.5,331.5 L432.0,331.7 L432.5,331.5 L433.0,331.2 L433.5,331.4 L434.0,332.2 L434.5,332.0 L435.0,332.4 L435.5,331.5 L436.0,331.3 L436.5,332.1 L437.0,331.9 L437.5,331.2 L438.0,330.9 L438.5,331.5 L439.0,330.8 L439.5,331.6 L440.0,331.5 L440.5,331.6 L441.0,330.4 L441.5,330.3 L442.0,331.4 L442.5,332.3 L443.0,331.2 L443.5,330.8 L444.0,332.0 L444.5,331.3 L445.0,331.3 L445.5,332.1 L446.0,332.3 L446.5,331.4 L447.0,332.1 L447.5,330.5 L448.0,331.6 L448.5,330.9 L449.0,332.1 L449.5,330.8 L450.0,331.3 L450.5,331.9 L451.0,331.0 L451.5,330.8 L452.0,330.7 L452.5,330.0 L453.0,331.2 L453.5,331.0 L454.0,330.4 L454.5,330.9 L455.0,330.4 L455.5,331.2 L456.0,330.5 L456.5,331.2 L457.0,330.2 L457.5,331.1 L458.0,331.0 L458.5,330.3 L459.0,330.6 L459.5,331.4 L460.0,331.3 L460.5,331.0 L461.0,330.5 L461.5,329.7 L462.0,331.3 L462.5,331.1 L463.0,331.6 L463.5,330.3 L464.0,330.7 L464.5,331.4 L465.0,330.7 L465.5,330.5 L466.0,331.5 L466.5,331.9 L467.0,330.7 L467.5,329.8 L468.0,329.8 L468.5,330.4 L469.0,330.3 L469.5,331.0 L470.0,330.8 L470.5,331.3 L471.0,331.9 L471.5,331.7 L472.0,330.8 L472.5,331.3 L473.0,330.4 L473.5,331.2 L474.0,331.4 L474.5,331.0 L475.0,331.7 L475.5,331.0 L476.0,331.2 L476.5,330.8 L477.0,331.8 L477.5,331.3 L478.0,331.8 L478.5,331.9 L479.0,331.6 L479.5,330.5 L480.0,331.7 L480.5,331.5 L481.0,331.0 L481.5,331.5 L482.0,331.1 L482.5,331.0 L483.0,331.1 L483.5,331.3 L484.0,331.1 L484.5,331.8 L485.0,331.1 L485.5,331.6 L486.0,332.1 L486.5,331.2 L487.0,332.2 L487.5,332.1 L488.0,331.5 L488.5,332.4 L489.0,331.3 L489.5,331.2 L490.0,333.0 L490.5,331.9 L491.0,331.9 L491.5,332.6 L492.0,332.8 L492.5,332.6 L493.0,332.1 L493.5,331.8 L494.0,332.2 L494.5,331.8 L495.0,331.0 L495.5,331.1 L496.0,331.2 L496.5,332.1 L497.0,332.4 L497.5,332.0 L498.0,331.9 L498.5,333.0 L499.0,332.1 L499.5,332.9 L500.0,332.3 L500.5,331.7 L501.0,332.3 L501.5,332.4 L502.0,333.0 L502.5,332.4 L503.0,331.8 L503.5,332.1 L504.0,331.5 L504.5,332.1 L505.0,332.3 L505.5,332.3 L506.0,332.7 L506.5,331.4 L507.0,332.2 L507.5,331.8 L508.0,331.4 L508.5,332.2 L509.0,332.7 L509.5,332.3 L510.0,332.4 L510.5,331.2 L511.0,331.7 L511.5,331.8 L512.0,331.4 L512.5,331.8 L513.0,331.7 L513.5,331.5 L514.0,330.9 L514.5,331.4 L515.0,332.6 L515.5,332.7 L516.0,332.4 L516.5,331.9" fill="none" stroke="#000" stroke-width="2.0" stroke-linejoin="round" stroke-linecap="round" />
<path d="M313.0,444.0 L313.1,442.8 L313.1,441.6 L313.2,440.5 L313.2,439.3 L313.3,438.1 L313.4,437.0 L313.4,435.8 L313.5,434.5 L313.5,433.3 L313.6,432.0 L313.7,430.4 L313.8,428.8 L313.8,427.1 L313.9,425.4 L314.0,423.6 L314.1,421.9 L314.2,420.1 L314.2,418.4 L314.3,416.7 L314.4,415.0 L314.5,413.4 L314.6,411.9 L314.6,410.3 L314.7,408.8 L314.8,407.3 L314.9,405.7 L315.0,404.2 L315.0,402.8 L315.1,401.4 L315.2,400.0 L315.3,398.9 L315.3,397.9 L315.4,396.9 L315.4,396.0 L315.5,395.0 L315.5,394.0 L315.6,393.1 L315.7,392.1 L315.7,391.1 L315.8,390.0 L315.9,388.6 L316.0,387.2 L316.1,385.7 L316.2,384.2 L316.3,382.6 L316.4,381.1 L316.5,379.5 L316.6,378.0 L316.7,376.5 L316.8,375.0 L316.9,373.7 L317.0,372.3 L317.1,371.0 L317.2,369.7 L317.3,368.4 L317.4,367.1 L317.5,365.8 L317.6,364.6 L317.7,363.3 L317.8,362.0 L317.9,360.8 L318.0,359.5 L318.1,358.3 L318.2,357.0 L318.2,355.8 L318.3,354.6 L318.4,353.4 L318.5,352.2 L318.7,351.1 L318.8,350.0 L318.9,349.1 L319.1,348.3 L319.2,347.4 L319.3,346.6 L319.5,345.8 L319.6,345.1 L319.8,344.3 L320.0,343.5 L320.1,342.8 L320.3,342.0 L320.5,341.3 L320.6,340.6 L320.8,340.0 L320.9,339.3 L321.1,338.7 L321.3,338.0" fill="none" stroke="#000" stroke-width="2.0" stroke-linejoin="round" stroke-linecap="round" />
<path d="M320.8,340.0 L320.9,339.3 L321.1,338.7 L321.3,338.0 L321.4,337.4 L321.6,336.8 L321.8,336.2 L322.0,335.6 L322.2,335.1 L322.4,334.6 L322.5,334.2 L322.7,333.7 L322.9,333.3 L323.1,332.8 L323.3,332.4 L323.6,332.0 L323.8,331.6 L324.0,331.2 L324.2,330.9 L324.4,330.5 L324.6,330.2 L324.8,329.9 L325.0,329.6 L325.5,328.8 L326.0,328.4 L326.5,327.6 L327.0,327.2 L327.5,326.6 L328.0,326.1 L328.5,325.7 L329.0,325.3 L329.5,324.6 L330.0,324.3 L330.5,323.8 L331.0,323.4 L331.5,323.0 L332.0,322.7 L332.5,322.3 L333.0,321.9 L333.5,321.4 L334.0,321.2 L334.5,320.9 L335.0,320.4 L335.5,320.1 L336.0,319.8 L336.5,319.5 L337.0,319.3 L337.5,319.1 L338.0,318.7 L338.5,318.4 L339.0,318.2 L339.5,318.2 L340.0,317.9 L340.5,317.7 L341.0,317.6 L341.5,317.2 L342.0,317.1 L342.5,316.8 L343.0,316.7 L343.5,316.5 L344.0,316.2 L344.5,316.1 L345.0,316.0 L345.5,315.9 L346.0,315.7 L346.5,315.4 L347.0,315.6 L347.5,315.1 L348.0,315.3 L348.5,315.1 L349.0,314.8 L349.5,315.0 L350.0,314.7 L350.5,314.7 L351.0,314.3 L351.5,314.3 L352.0,313.9 L352.5,313.9 L353.0,313.9 L353.5,314.1 L354.0,313.9 L354.5,313.8 L355.0,313.5 L355.5,313.0 L356.0,313.1 L356.5,312.8 L357.0,312.9 L357.5,313.0 L358.0,312.8 L358.5,312.9 L359.0,313.2 L359.5,313.0 L360.0,312.4 L360.5,312.4 L361.0,312.2 L361.5,312.6 L362.0,311.9 L362.5,312.1 L363.0,312.6 L363.5,312.1 L364.0,311.6 L364.5,312.2 L365.0,311.8 L365.5,311.4 L366.0,311.5 L366.5,311.9 L367.0,311.4 L367.5,311.3 L368.0,310.8 L368.5,310.6 L369.0,310.5 L369.5,310.5 L370.0,310.9 L370.5,310.6 L371.0,310.6 L371.5,310.7 L372.0,311.2 L372.5,311.6 L373.0,310.5 L373.5,311.1 L374.0,310.8 L374.5,310.7 L375.0,310.7 L375.5,310.7 L376.0,310.9 L376.5,310.9 L377.0,310.2 L377.5,310.3 L378.0,310.6 L378.5,310.2 L379.0,310.2 L379.5,311.1 L380.0,311.4 L380.5,311.0 L381.0,310.3 L381.5,311.0 L382.0,311.0 L382.5,311.0 L383.0,310.0 L383.5,310.0 L384.0,310.6 L384.5,310.2 L385.0,309.8 L385.5,310.2 L386.0,309.3 L386.5,309.8 L387.0,309.7 L387.5,310.4 L388.0,310.0 L388.5,310.1 L389.0,310.5 L389.5,310.5 L390.0,310.3 L390.5,310.1 L391.0,310.9 L391.5,311.2 L392.0,310.4 L392.5,310.8 L393.0,310.3 L393.5,311.1 L394.0,310.9 L394.5,309.8 L395.0,309.8 L395.5,309.4 L396.0,310.1 L396.5,310.1 L397.0,310.0 L397.5,308.9 L398.0,308.5 L398.5,309.0 L399.0,309.5 L399.5,308.1 L400.0,308.9 L400.5,308.4 L401.0,309.3 L401.5,309.1 L402.0,308.6 L402.5,309.1 L403.0,310.3 L403.5,310.0 L404.0,309.4 L404.5,309.6 L405.0,309.9 L405.5,309.2 L406.0,308.8 L406.5,309.2 L407.0,309.4 L407.5,309.2 L408.0,309.9 L408.5,309.1 L409.0,309.5 L409.5,309.1 L410.0,310.2 L410.5,309.9 L411.0,310.3 L411.5,309.7 L412.0,309.5 L412.5,309.7 L413.0,309.3 L413.5,310.4 L414.0,308.8 L414.5,309.1 L415.0,310.6 L415.5,310.1 L416.0,309.1 L416.5,309.4 L417.0,309.5 L417.5,309.2 L418.0,309.9 L418.5,309.7 L419.0,309.5 L419.5,308.9 L420.0,309.1 L420.5,309.4 L421.0,309.4 L421.5,309.1 L422.0,308.7 L422.5,308.5 L423.0,309.8 L423.5,310.2 L424.0,309.8 L424.5,308.9 L425.0,309.2 L425.5,308.9 L426.0,309.5 L426.5,309.5 L427.0,309.7 L427.5,309.8 L428.0,309.5 L428.5,310.5 L429.0,309.1 L429.5,310.3 L430.0,310.5 L430.5,310.7 L431.0,309.9 L431.5,309.4 L432.0,310.1 L432.5,309.8 L433.0,310.1 L433.5,310.4 L434.0,309.8 L434.5,310.5 L435.0,311.2 L435.5,310.4 L436.0,310.5 L436.5,311.2 L437.0,309.7 L437.5,309.5 L438.0,309.6 L438.5,310.9 L439.0,310.0 L439.5,310.3 L440.0,310.1 L440.5,309.9 L441.0,310.6 L441.5,310.0 L442.0,310.1 L442.5,310.7 L443.0,310.0 L443.5,310.8 L444.0,309.4 L444.5,310.5 L445.0,310.1 L445.5,309.6 L446.0,309.2 L446.5,309.2 L447.0,309.3 L447.5,309.9 L448.0,310.1 L448.5,309.0 L449.0,310.5 L449.5,310.5 L450.0,309.6 L450.5,310.3 L451.0,309.3 L451.5,310.6 L452.0,310.8 L452.5,310.3 L453.0,311.5 L453.5,310.9 L454.0,311.2 L454.5,310.2 L455.0,310.4 L455.5,310.7 L456.0,310.0 L456.5,310.8 L457.0,310.7 L457.5,310.1 L458.0,309.7 L458.5,310.3 L459.0,310.0 L459.5,310.0 L460.0,310.0 L460.5,310.6 L461.0,310.2 L461.5,309.3 L462.0,310.6 L462.5,309.9 L463.0,309.4 L463.5,310.1 L464.0,310.4 L464.5,310.3 L465.0,309.6 L465.5,309.4 L466.0,309.6 L466.5,309.6 L467.0,310.6 L467.5,310.2 L468.0,311.4 L468.5,310.7 L469.0,310.5 L469.5,310.0 L470.0,311.1 L470.5,310.3 L471.0,310.8 L471.5,311.3 L472.0,310.8 L472.5,310.9 L473.0,311.5 L473.5,310.6 L474.0,310.6 L474.5,310.8 L475.0,311.8 L475.5,311.3 L476.0,311.0 L476.5,312.0 L477.0,311.7 L477.5,311.3 L478.0,312.7 L478.5,312.4 L479.0,311.9 L479.5,311.2 L480.0,311.6 L480.5,310.5 L481.0,311.0 L481.5,311.2 L482.0,312.0 L482.5,311.8 L483.0,310.7 L483.5,311.0 L484.0,311.0 L484.5,311.2 L485.0,311.1 L485.5,311.7 L486.0,311.1 L486.5,310.6 L487.0,310.8 L487.5,311.6 L488.0,310.4 L488.5,310.1 L489.0,311.1 L489.5,310.5 L490.0,311.1 L490.5,311.2 L491.0,310.1 L491.5,311.3 L492.0,311.6 L492.5,310.9 L493.0,311.0 L493.5,310.6 L494.0,310.7 L494.5,310.9 L495.0,310.3 L495.5,310.3 L496.0,310.0 L496.5,310.8 L497.0,310.8 L497.5,311.5 L498.0,311.3 L498.5,310.9 L499.0,312.0 L499.5,311.9 L500.0,311.1 L500.5,311.7 L501.0,310.8 L501.5,311.7 L502.0,311.0 L502.5,311.5 L503.0,311.4 L503.5,311.4 L504.0,311.6 L504.5,311.3 L505.0,311.0 L505.5,311.2 L506.0,311.8 L506.5,311.8 L507.0,312.3 L507.5,312.2 L508.0,310.9 L508.5,311.4 L509.0,311.0 L509.5,311.9 L510.0,312.0 L510.5,312.1 L511.0,311.3 L511.5,311.9 L512.0,311.4 L512.5,311.5 L513.0,311.2 L513.5,311.7 L514.0,311.8 L514.5,311.6 L515.0,310.3 L515.5,310.9 L516.0,311.5 L516.5,310.9" fill="none" stroke="#000" stroke-width="2.7" stroke-linejoin="round" stroke-linecap="round" />
<line x1="340.1" y1="320.9" x2="402.3" y2="372.3" stroke="#000" stroke-width="1.4"/>
<line x1="344.5" y1="351.5" x2="402.3" y2="401.1" stroke="#000" stroke-width="1.4"/>
<line x1="337" y1="377.2" x2="402.3" y2="430.9" stroke="#000" stroke-width="1.4"/>
<rect x="412.3" y="358.1" width="69.4" height="20.2" fill="#fff" stroke="#000" stroke-width="1.3"/>
<text x="426.8" y="373.9" font-family="'Liberation Sans', sans-serif" font-size="12.5" textLength="39.4" lengthAdjust="spacingAndGlyphs">30 min</text>
<rect x="412.3" y="386.7" width="69.4" height="20.2" fill="#fff" stroke="#000" stroke-width="1.3"/>
<text x="426.8" y="402.5" font-family="'Liberation Sans', sans-serif" font-size="12.5" textLength="39.4" lengthAdjust="spacingAndGlyphs">60 min</text>
<rect x="412.3" y="416.5" width="69.4" height="20.2" fill="#fff" stroke="#000" stroke-width="1.3"/>
<text x="426.8" y="432.3" font-family="'Liberation Sans', sans-serif" font-size="12.5" textLength="39.4" lengthAdjust="spacingAndGlyphs">90 min</text></svg>
</body></html>
